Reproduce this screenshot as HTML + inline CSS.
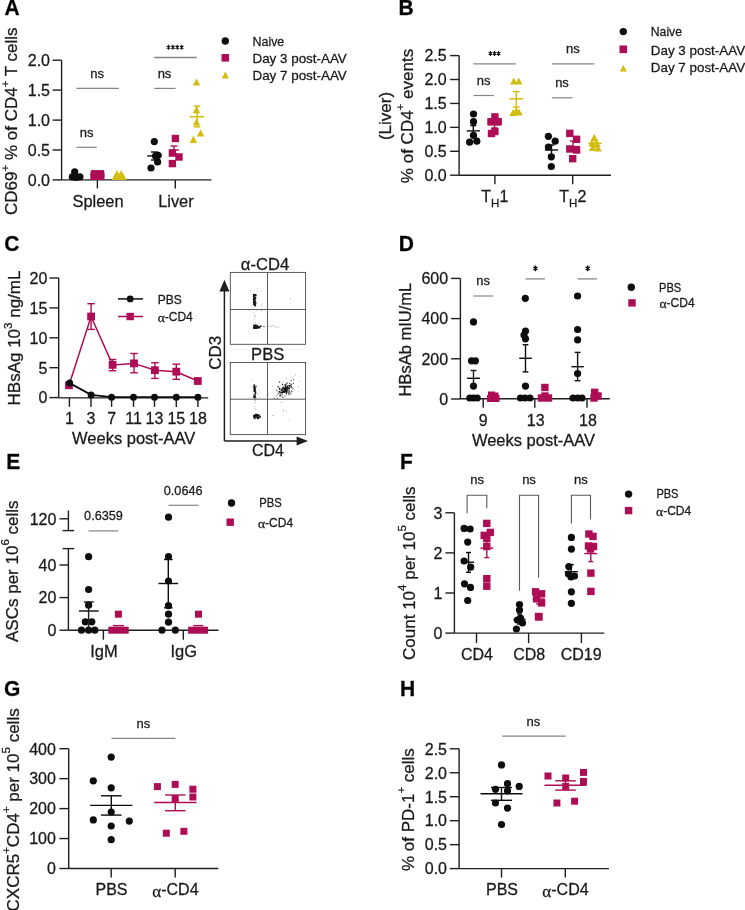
<!DOCTYPE html>
<html><head><meta charset="utf-8"><style>
html,body{margin:0;padding:0;background:#fff;}
svg{display:block;font-family:"Liberation Sans", sans-serif;will-change:transform;}
text{stroke:#1a1a1a;stroke-width:0.28px;}
</style></head><body>
<svg width="745" height="910" viewBox="0 0 745 910">
<rect width="745" height="910" fill="#fff"/>
<text transform="translate(4.5,15.3) scale(1,1.09)" font-size="21" font-weight="bold" fill="#000">A</text>
<line x1="61.6" y1="60.2" x2="61.6" y2="179.9" stroke="#1e1e1e" stroke-width="1.4"/>
<line x1="52.6" y1="60.2" x2="61.6" y2="60.2" stroke="#1e1e1e" stroke-width="1.4"/>
<text x="50" y="66.0" font-size="16" text-anchor="end" font-weight="normal" fill="#1a1a1a" >2.0</text>
<line x1="52.6" y1="90.1" x2="61.6" y2="90.1" stroke="#1e1e1e" stroke-width="1.4"/>
<text x="50" y="95.89999999999999" font-size="16" text-anchor="end" font-weight="normal" fill="#1a1a1a" >1.5</text>
<line x1="52.6" y1="120.1" x2="61.6" y2="120.1" stroke="#1e1e1e" stroke-width="1.4"/>
<text x="50" y="125.89999999999999" font-size="16" text-anchor="end" font-weight="normal" fill="#1a1a1a" >1.0</text>
<line x1="52.6" y1="150" x2="61.6" y2="150" stroke="#1e1e1e" stroke-width="1.4"/>
<text x="50" y="155.8" font-size="16" text-anchor="end" font-weight="normal" fill="#1a1a1a" >0.5</text>
<line x1="52.6" y1="179.9" x2="61.6" y2="179.9" stroke="#1e1e1e" stroke-width="1.4"/>
<text x="50" y="185.70000000000002" font-size="16" text-anchor="end" font-weight="normal" fill="#1a1a1a" >0.0</text>
<line x1="61.6" y1="179.9" x2="211.5" y2="179.9" stroke="#1e1e1e" stroke-width="1.4"/>
<line x1="97.4" y1="179.9" x2="97.4" y2="188.4" stroke="#1e1e1e" stroke-width="1.4"/>
<line x1="175.3" y1="179.9" x2="175.3" y2="188.4" stroke="#1e1e1e" stroke-width="1.4"/>
<text x="98" y="207.2" font-size="16.4" text-anchor="middle" font-weight="normal" fill="#1a1a1a" >Spleen</text>
<text x="175.9" y="207.2" font-size="16.4" text-anchor="middle" font-weight="normal" fill="#1a1a1a" >Liver</text>
<text transform="translate(17.2,121.2) rotate(-90)" font-size="17" text-anchor="middle" fill="#1a1a1a" >CD69<tspan dy="-8.3" font-size="11.5">+</tspan><tspan dy="8.3"> % of CD4</tspan><tspan dy="-8.3" font-size="11.5">+</tspan><tspan dy="8.3"> T cells</tspan></text>
<line x1="76.5" y1="88.4" x2="118.8" y2="88.4" stroke="#858585" stroke-width="1.2"/>
<text x="97.2" y="77.8" font-size="13" text-anchor="middle" font-weight="normal" fill="#1a1a1a" >ns</text>
<line x1="76.5" y1="147.3" x2="96.8" y2="147.3" stroke="#858585" stroke-width="1.2"/>
<text x="86.6" y="136.8" font-size="13" text-anchor="middle" font-weight="normal" fill="#1a1a1a" >ns</text>
<line x1="154.2" y1="88.4" x2="175.6" y2="88.4" stroke="#858585" stroke-width="1.2"/>
<text x="164.5" y="77.6" font-size="13" text-anchor="middle" font-weight="normal" fill="#1a1a1a" >ns</text>
<line x1="154.2" y1="57.5" x2="196.7" y2="57.5" stroke="#858585" stroke-width="1.3"/>
<path d="M168.50,44.80V49.80M166.70,45.92L170.30,48.67M166.70,48.67L170.30,45.92" stroke="#111" stroke-width="1.1" fill="none"/>
<circle cx="168.50" cy="47.3" r="0.9" fill="#111"/>
<path d="M172.90,44.80V49.80M171.10,45.92L174.70,48.67M171.10,48.67L174.70,45.92" stroke="#111" stroke-width="1.1" fill="none"/>
<circle cx="172.90" cy="47.3" r="0.9" fill="#111"/>
<path d="M177.30,44.80V49.80M175.50,45.92L179.10,48.67M175.50,48.67L179.10,45.92" stroke="#111" stroke-width="1.1" fill="none"/>
<circle cx="177.30" cy="47.3" r="0.9" fill="#111"/>
<path d="M181.70,44.80V49.80M179.90,45.92L183.50,48.67M179.90,48.67L183.50,45.92" stroke="#111" stroke-width="1.1" fill="none"/>
<circle cx="181.70" cy="47.3" r="0.9" fill="#111"/>
<circle cx="72.3" cy="176.9" r="3.6" fill="#0d0d0d"/>
<circle cx="76.1" cy="177.4" r="3.6" fill="#0d0d0d"/>
<circle cx="79.9" cy="176.9" r="3.6" fill="#0d0d0d"/>
<circle cx="74.7" cy="171.9" r="3.6" fill="#0d0d0d"/>
<rect x="90.30" y="172.60" width="7.4" height="7.4" fill="#AD0D55"/>
<rect x="97.10" y="172.60" width="7.4" height="7.4" fill="#AD0D55"/>
<rect x="90.80" y="170.10" width="7.4" height="7.4" fill="#AD0D55"/>
<rect x="96.80" y="170.10" width="7.4" height="7.4" fill="#AD0D55"/>
<rect x="93.80" y="171.30" width="7.4" height="7.4" fill="#AD0D55"/>
<polygon points="113.30,177.19 120.70,177.19 117.00,170.01" fill="#D3BD12"/>
<polygon points="117.50,177.19 124.90,177.19 121.20,170.01" fill="#D3BD12"/>
<polygon points="111.80,180.09 119.20,180.09 115.50,172.91" fill="#D3BD12"/>
<polygon points="119.30,180.09 126.70,180.09 123.00,172.91" fill="#D3BD12"/>
<polygon points="115.30,180.09 122.70,180.09 119.00,172.91" fill="#D3BD12"/>
<line x1="70.0" y1="176" x2="82.0" y2="176" stroke="#0d0d0d" stroke-width="1.4"/>
<circle cx="154.3" cy="141.6" r="3.6" fill="#0d0d0d"/>
<circle cx="158.1" cy="155.3" r="3.6" fill="#0d0d0d"/>
<circle cx="155.5" cy="156" r="3.6" fill="#0d0d0d"/>
<circle cx="157.6" cy="161.9" r="3.6" fill="#0d0d0d"/>
<circle cx="151" cy="168" r="3.6" fill="#0d0d0d"/>
<line x1="147.35" y1="155.9" x2="161.65" y2="155.9" stroke="#0d0d0d" stroke-width="1.4"/>
<line x1="154.5" y1="160" x2="154.5" y2="152" stroke="#0d0d0d" stroke-width="1.4"/>
<line x1="151.0" y1="160" x2="158.0" y2="160" stroke="#0d0d0d" stroke-width="1.4"/>
<line x1="151.0" y1="152" x2="158.0" y2="152" stroke="#0d0d0d" stroke-width="1.4"/>
<rect x="171.70" y="134.80" width="7.4" height="7.4" fill="#AD0D55"/>
<rect x="168.70" y="149.40" width="7.4" height="7.4" fill="#AD0D55"/>
<rect x="175.30" y="153.30" width="7.4" height="7.4" fill="#AD0D55"/>
<rect x="168.70" y="159.90" width="7.4" height="7.4" fill="#AD0D55"/>
<line x1="169.0" y1="150" x2="179.0" y2="150" stroke="#AD0D55" stroke-width="1.4"/>
<line x1="174" y1="154" x2="174" y2="146" stroke="#AD0D55" stroke-width="1.4"/>
<line x1="170.5" y1="154" x2="177.5" y2="154" stroke="#AD0D55" stroke-width="1.4"/>
<line x1="170.5" y1="146" x2="177.5" y2="146" stroke="#AD0D55" stroke-width="1.4"/>
<polygon points="192.80,85.59 200.20,85.59 196.50,78.41" fill="#D3BD12"/>
<polygon points="192.80,113.29 200.20,113.29 196.50,106.11" fill="#D3BD12"/>
<polygon points="192.80,125.49 200.20,125.49 196.50,118.31" fill="#D3BD12"/>
<polygon points="196.90,136.39 204.30,136.39 200.60,129.21" fill="#D3BD12"/>
<polygon points="189.70,142.99 197.10,142.99 193.40,135.81" fill="#D3BD12"/>
<line x1="189.9" y1="116.8" x2="204.29999999999998" y2="116.8" stroke="#D3BD12" stroke-width="1.5"/>
<line x1="197.1" y1="106.2" x2="197.1" y2="126.8" stroke="#D3BD12" stroke-width="1.5"/>
<line x1="193.79999999999998" y1="106.2" x2="200.4" y2="106.2" stroke="#D3BD12" stroke-width="1.5"/>
<line x1="193.79999999999998" y1="126.8" x2="200.4" y2="126.8" stroke="#D3BD12" stroke-width="1.5"/>
<circle cx="225.3" cy="41" r="3.7" fill="#0d0d0d"/>
<rect x="221.50" y="54.00" width="7.6" height="7.6" fill="#AD0D55"/>
<polygon points="221.80,78.39 228.80,78.39 225.30,71.61" fill="#D3BD12"/>
<text x="252.5" y="45.8" font-size="13.4" text-anchor="start" font-weight="normal" fill="#1a1a1a" textLength="31.8" lengthAdjust="spacingAndGlyphs">Naive</text>
<text x="252.5" y="62.6" font-size="13.4" text-anchor="start" font-weight="normal" fill="#1a1a1a" >Day 3 post-AAV</text>
<text x="252.5" y="79.8" font-size="13.4" text-anchor="start" font-weight="normal" fill="#1a1a1a" >Day 7 post-AAV</text>
<text transform="translate(398.6,15.3) scale(1,1.09)" font-size="21" font-weight="bold" fill="#000">B</text>
<line x1="459.1" y1="55.6" x2="459.1" y2="175.3" stroke="#1e1e1e" stroke-width="1.4"/>
<line x1="450.1" y1="55.6" x2="459.1" y2="55.6" stroke="#1e1e1e" stroke-width="1.4"/>
<text x="446.7" y="61.4" font-size="16" text-anchor="end" font-weight="normal" fill="#1a1a1a" >2.5</text>
<line x1="450.1" y1="79.52000000000001" x2="459.1" y2="79.52000000000001" stroke="#1e1e1e" stroke-width="1.4"/>
<text x="446.7" y="85.32000000000001" font-size="16" text-anchor="end" font-weight="normal" fill="#1a1a1a" >2.0</text>
<line x1="450.1" y1="103.44" x2="459.1" y2="103.44" stroke="#1e1e1e" stroke-width="1.4"/>
<text x="446.7" y="109.24" font-size="16" text-anchor="end" font-weight="normal" fill="#1a1a1a" >1.5</text>
<line x1="450.1" y1="127.36000000000001" x2="459.1" y2="127.36000000000001" stroke="#1e1e1e" stroke-width="1.4"/>
<text x="446.7" y="133.16000000000003" font-size="16" text-anchor="end" font-weight="normal" fill="#1a1a1a" >1.0</text>
<line x1="450.1" y1="151.28" x2="459.1" y2="151.28" stroke="#1e1e1e" stroke-width="1.4"/>
<text x="446.7" y="157.08" font-size="16" text-anchor="end" font-weight="normal" fill="#1a1a1a" >0.5</text>
<line x1="450.1" y1="175.20000000000002" x2="459.1" y2="175.20000000000002" stroke="#1e1e1e" stroke-width="1.4"/>
<text x="446.7" y="181.00000000000003" font-size="16" text-anchor="end" font-weight="normal" fill="#1a1a1a" >0.0</text>
<line x1="459.1" y1="175.3" x2="611" y2="175.3" stroke="#1e1e1e" stroke-width="1.4"/>
<line x1="494.9" y1="175.3" x2="494.9" y2="184.3" stroke="#1e1e1e" stroke-width="1.4"/>
<line x1="572.7" y1="175.3" x2="572.7" y2="184.3" stroke="#1e1e1e" stroke-width="1.4"/>
<text x="481.3" y="202" font-size="16" fill="#1a1a1a">T<tspan dy="5" font-size="11.5">H</tspan><tspan dy="-5">1</tspan></text>
<text x="559.3" y="202" font-size="16" fill="#1a1a1a">T<tspan dy="5" font-size="11.5">H</tspan><tspan dy="-5">2</tspan></text>
<text transform="translate(390.7,116) rotate(-90)" font-size="17" text-anchor="middle" fill="#1a1a1a" >(Liver)</text>
<text transform="translate(412.7,116) rotate(-90)" font-size="17" text-anchor="middle" fill="#1a1a1a" >% of CD4<tspan dy="-8.3" font-size="11.5">+</tspan><tspan dy="8.3"> events</tspan></text>
<line x1="473.5" y1="95.5" x2="493.9" y2="95.5" stroke="#858585" stroke-width="1.2"/>
<text x="483.7" y="84.8" font-size="13" text-anchor="middle" font-weight="normal" fill="#1a1a1a" >ns</text>
<line x1="473.5" y1="63.9" x2="515.7" y2="63.9" stroke="#858585" stroke-width="1.3"/>
<path d="M490.45,51.00V56.00M488.65,52.12L492.25,54.88M488.65,54.88L492.25,52.12" stroke="#111" stroke-width="1.1" fill="none"/>
<circle cx="490.45" cy="53.5" r="0.9" fill="#111"/>
<path d="M494.50,51.00V56.00M492.70,52.12L496.30,54.88M492.70,54.88L496.30,52.12" stroke="#111" stroke-width="1.1" fill="none"/>
<circle cx="494.50" cy="53.5" r="0.9" fill="#111"/>
<path d="M498.55,51.00V56.00M496.75,52.12L500.35,54.88M496.75,54.88L500.35,52.12" stroke="#111" stroke-width="1.1" fill="none"/>
<circle cx="498.55" cy="53.5" r="0.9" fill="#111"/>
<line x1="551.9" y1="63.9" x2="594.2" y2="63.9" stroke="#858585" stroke-width="1.2"/>
<text x="572.8" y="53.2" font-size="13" text-anchor="middle" font-weight="normal" fill="#1a1a1a" >ns</text>
<line x1="551.9" y1="97.8" x2="572.7" y2="97.8" stroke="#858585" stroke-width="1.2"/>
<text x="562" y="87.1" font-size="13" text-anchor="middle" font-weight="normal" fill="#1a1a1a" >ns</text>
<circle cx="473.5" cy="114" r="3.6" fill="#0d0d0d"/>
<circle cx="473.5" cy="121.7" r="3.6" fill="#0d0d0d"/>
<circle cx="473.5" cy="135.4" r="3.6" fill="#0d0d0d"/>
<circle cx="469.6" cy="142.2" r="3.6" fill="#0d0d0d"/>
<circle cx="476.8" cy="141.2" r="3.6" fill="#0d0d0d"/>
<line x1="466.7" y1="130.9" x2="479.90000000000003" y2="130.9" stroke="#0d0d0d" stroke-width="1.4"/>
<line x1="473.3" y1="125.6" x2="473.3" y2="136" stroke="#0d0d0d" stroke-width="1.4"/>
<line x1="470.3" y1="125.6" x2="476.3" y2="125.6" stroke="#0d0d0d" stroke-width="1.4"/>
<line x1="470.3" y1="136" x2="476.3" y2="136" stroke="#0d0d0d" stroke-width="1.4"/>
<rect x="491.20" y="113.20" width="7.4" height="7.4" fill="#AD0D55"/>
<rect x="487.30" y="118.00" width="7.4" height="7.4" fill="#AD0D55"/>
<rect x="494.50" y="118.00" width="7.4" height="7.4" fill="#AD0D55"/>
<rect x="491.20" y="127.80" width="7.4" height="7.4" fill="#AD0D55"/>
<rect x="487.80" y="129.80" width="7.4" height="7.4" fill="#AD0D55"/>
<line x1="488.5" y1="124.7" x2="500.5" y2="124.7" stroke="#AD0D55" stroke-width="1.4"/>
<line x1="494.5" y1="121" x2="494.5" y2="128" stroke="#AD0D55" stroke-width="1.4"/>
<line x1="491.5" y1="121" x2="497.5" y2="121" stroke="#AD0D55" stroke-width="1.4"/>
<line x1="491.5" y1="128" x2="497.5" y2="128" stroke="#AD0D55" stroke-width="1.4"/>
<polygon points="510.10,84.59 517.50,84.59 513.80,77.41" fill="#D3BD12"/>
<polygon points="515.10,84.59 522.50,84.59 518.80,77.41" fill="#D3BD12"/>
<polygon points="512.60,114.09 520.00,114.09 516.30,106.91" fill="#D3BD12"/>
<polygon points="509.30,116.09 516.70,116.09 513.00,108.91" fill="#D3BD12"/>
<polygon points="515.30,115.59 522.70,115.59 519.00,108.41" fill="#D3BD12"/>
<line x1="509.29999999999995" y1="98.8" x2="523.3" y2="98.8" stroke="#D3BD12" stroke-width="1.5"/>
<line x1="516.3" y1="91.6" x2="516.3" y2="107.1" stroke="#D3BD12" stroke-width="1.5"/>
<line x1="513.0" y1="91.6" x2="519.5999999999999" y2="91.6" stroke="#D3BD12" stroke-width="1.5"/>
<line x1="513.0" y1="107.1" x2="519.5999999999999" y2="107.1" stroke="#D3BD12" stroke-width="1.5"/>
<circle cx="548.4" cy="136.3" r="3.6" fill="#0d0d0d"/>
<circle cx="555.2" cy="141.2" r="3.6" fill="#0d0d0d"/>
<circle cx="548.4" cy="147" r="3.6" fill="#0d0d0d"/>
<circle cx="551.3" cy="156.8" r="3.6" fill="#0d0d0d"/>
<circle cx="551.3" cy="166.5" r="3.6" fill="#0d0d0d"/>
<line x1="544.85" y1="150" x2="558.15" y2="150" stroke="#0d0d0d" stroke-width="1.4"/>
<line x1="551.5" y1="145" x2="551.5" y2="155" stroke="#0d0d0d" stroke-width="1.4"/>
<line x1="548.5" y1="145" x2="554.5" y2="145" stroke="#0d0d0d" stroke-width="1.4"/>
<line x1="548.5" y1="155" x2="554.5" y2="155" stroke="#0d0d0d" stroke-width="1.4"/>
<rect x="566.10" y="129.70" width="7.4" height="7.4" fill="#AD0D55"/>
<rect x="572.90" y="135.60" width="7.4" height="7.4" fill="#AD0D55"/>
<rect x="566.10" y="145.30" width="7.4" height="7.4" fill="#AD0D55"/>
<rect x="572.90" y="146.30" width="7.4" height="7.4" fill="#AD0D55"/>
<rect x="569.00" y="155.00" width="7.4" height="7.4" fill="#AD0D55"/>
<line x1="567.0" y1="146.5" x2="579.0" y2="146.5" stroke="#AD0D55" stroke-width="1.4"/>
<line x1="573" y1="141" x2="573" y2="151" stroke="#AD0D55" stroke-width="1.4"/>
<line x1="570.0" y1="141" x2="576.0" y2="141" stroke="#AD0D55" stroke-width="1.4"/>
<line x1="570.0" y1="151" x2="576.0" y2="151" stroke="#AD0D55" stroke-width="1.4"/>
<polygon points="590.50,140.89 597.90,140.89 594.20,133.71" fill="#D3BD12"/>
<polygon points="588.30,146.59 595.70,146.59 592.00,139.41" fill="#D3BD12"/>
<polygon points="593.30,147.09 600.70,147.09 597.00,139.91" fill="#D3BD12"/>
<polygon points="588.80,151.09 596.20,151.09 592.50,143.91" fill="#D3BD12"/>
<polygon points="594.30,151.39 601.70,151.39 598.00,144.21" fill="#D3BD12"/>
<line x1="588.25" y1="143.3" x2="601.75" y2="143.3" stroke="#D3BD12" stroke-width="1.5"/>
<line x1="595" y1="140" x2="595" y2="147" stroke="#D3BD12" stroke-width="1.5"/>
<line x1="592.0" y1="140" x2="598.0" y2="140" stroke="#D3BD12" stroke-width="1.5"/>
<line x1="592.0" y1="147" x2="598.0" y2="147" stroke="#D3BD12" stroke-width="1.5"/>
<circle cx="623.3" cy="31.6" r="3.7" fill="#0d0d0d"/>
<rect x="619.50" y="45.50" width="7.6" height="7.6" fill="#AD0D55"/>
<polygon points="619.80,71.49 626.80,71.49 623.30,64.70" fill="#D3BD12"/>
<text x="650.8" y="36.4" font-size="13.4" text-anchor="start" font-weight="normal" fill="#1a1a1a" textLength="31.2" lengthAdjust="spacingAndGlyphs">Naive</text>
<text x="650.8" y="54.5" font-size="13.4" text-anchor="start" font-weight="normal" fill="#1a1a1a" >Day 3 post-AAV</text>
<text x="650.8" y="72.2" font-size="13.4" text-anchor="start" font-weight="normal" fill="#1a1a1a" >Day 7 post-AAV</text>
<text transform="translate(4.3,251.4) scale(1,1.09)" font-size="21" font-weight="bold" fill="#000">C</text>
<line x1="58.7" y1="278" x2="58.7" y2="397.6" stroke="#1e1e1e" stroke-width="1.4"/>
<line x1="49.400000000000006" y1="278.0" x2="58.7" y2="278.0" stroke="#1e1e1e" stroke-width="1.4"/>
<text x="47.4" y="283.8" font-size="16" text-anchor="end" font-weight="normal" fill="#1a1a1a" >20</text>
<line x1="49.400000000000006" y1="307.9" x2="58.7" y2="307.9" stroke="#1e1e1e" stroke-width="1.4"/>
<text x="47.4" y="313.7" font-size="16" text-anchor="end" font-weight="normal" fill="#1a1a1a" >15</text>
<line x1="49.400000000000006" y1="337.8" x2="58.7" y2="337.8" stroke="#1e1e1e" stroke-width="1.4"/>
<text x="47.4" y="343.6" font-size="16" text-anchor="end" font-weight="normal" fill="#1a1a1a" >10</text>
<line x1="49.400000000000006" y1="367.7" x2="58.7" y2="367.7" stroke="#1e1e1e" stroke-width="1.4"/>
<text x="47.4" y="373.5" font-size="16" text-anchor="end" font-weight="normal" fill="#1a1a1a" >5</text>
<line x1="49.400000000000006" y1="397.6" x2="58.7" y2="397.6" stroke="#1e1e1e" stroke-width="1.4"/>
<text x="47.4" y="403.40000000000003" font-size="16" text-anchor="end" font-weight="normal" fill="#1a1a1a" >0</text>
<line x1="58.7" y1="397.9" x2="208.2" y2="397.9" stroke="#1e1e1e" stroke-width="1.4"/>
<line x1="69.4" y1="397.9" x2="69.4" y2="406.9" stroke="#1e1e1e" stroke-width="1.4"/>
<line x1="91" y1="397.9" x2="91" y2="406.9" stroke="#1e1e1e" stroke-width="1.4"/>
<line x1="111.6" y1="397.9" x2="111.6" y2="406.9" stroke="#1e1e1e" stroke-width="1.4"/>
<line x1="133.5" y1="397.9" x2="133.5" y2="406.9" stroke="#1e1e1e" stroke-width="1.4"/>
<line x1="154.5" y1="397.9" x2="154.5" y2="406.9" stroke="#1e1e1e" stroke-width="1.4"/>
<line x1="176.3" y1="397.9" x2="176.3" y2="406.9" stroke="#1e1e1e" stroke-width="1.4"/>
<line x1="197.9" y1="397.9" x2="197.9" y2="406.9" stroke="#1e1e1e" stroke-width="1.4"/>
<text x="69.4" y="424.3" font-size="16" text-anchor="middle" font-weight="normal" fill="#1a1a1a" >1</text>
<text x="91" y="424.3" font-size="16" text-anchor="middle" font-weight="normal" fill="#1a1a1a" >3</text>
<text x="111.6" y="424.3" font-size="16" text-anchor="middle" font-weight="normal" fill="#1a1a1a" >7</text>
<text x="133.5" y="424.3" font-size="16" text-anchor="middle" font-weight="normal" fill="#1a1a1a" >11</text>
<text x="154.5" y="424.3" font-size="16" text-anchor="middle" font-weight="normal" fill="#1a1a1a" >13</text>
<text x="176.3" y="424.3" font-size="16" text-anchor="middle" font-weight="normal" fill="#1a1a1a" >15</text>
<text x="197.9" y="424.3" font-size="16" text-anchor="middle" font-weight="normal" fill="#1a1a1a" >18</text>
<text x="133.6" y="444.2" font-size="16.5" text-anchor="middle" font-weight="normal" fill="#1a1a1a" >Weeks post-AAV</text>
<text transform="translate(19.8,338) rotate(-90)" font-size="17" text-anchor="middle" fill="#1a1a1a" >HBsAg 10<tspan dy="-8.3" font-size="11.5">3</tspan><tspan dy="8.3"> ng/mL</tspan></text>
<polyline points="69,385.3 91.1,316.5 112.6,364.9 134,363.4 154.9,370.2 176.3,371.7 197.8,381" fill="none" stroke="#AD0D55" stroke-width="1.5"/>
<line x1="91.1" y1="316.5" x2="91.1" y2="316.5" stroke="#AD0D55" stroke-width="1.4"/>
<line x1="91.1" y1="303.7" x2="91.1" y2="329.4" stroke="#AD0D55" stroke-width="1.4"/>
<line x1="87.35" y1="303.7" x2="94.85" y2="303.7" stroke="#AD0D55" stroke-width="1.4"/>
<line x1="87.35" y1="329.4" x2="94.85" y2="329.4" stroke="#AD0D55" stroke-width="1.4"/>
<line x1="112.6" y1="364.9" x2="112.6" y2="364.9" stroke="#AD0D55" stroke-width="1.4"/>
<line x1="112.6" y1="359.5" x2="112.6" y2="370.7" stroke="#AD0D55" stroke-width="1.4"/>
<line x1="108.85" y1="359.5" x2="116.35" y2="359.5" stroke="#AD0D55" stroke-width="1.4"/>
<line x1="108.85" y1="370.7" x2="116.35" y2="370.7" stroke="#AD0D55" stroke-width="1.4"/>
<line x1="134.0" y1="363.4" x2="134.0" y2="363.4" stroke="#AD0D55" stroke-width="1.4"/>
<line x1="134" y1="353.5" x2="134" y2="372.8" stroke="#AD0D55" stroke-width="1.4"/>
<line x1="130.25" y1="353.5" x2="137.75" y2="353.5" stroke="#AD0D55" stroke-width="1.4"/>
<line x1="130.25" y1="372.8" x2="137.75" y2="372.8" stroke="#AD0D55" stroke-width="1.4"/>
<line x1="154.9" y1="370.2" x2="154.9" y2="370.2" stroke="#AD0D55" stroke-width="1.4"/>
<line x1="154.9" y1="362.7" x2="154.9" y2="378.4" stroke="#AD0D55" stroke-width="1.4"/>
<line x1="151.15" y1="362.7" x2="158.65" y2="362.7" stroke="#AD0D55" stroke-width="1.4"/>
<line x1="151.15" y1="378.4" x2="158.65" y2="378.4" stroke="#AD0D55" stroke-width="1.4"/>
<line x1="176.3" y1="371.7" x2="176.3" y2="371.7" stroke="#AD0D55" stroke-width="1.4"/>
<line x1="176.3" y1="364.2" x2="176.3" y2="379.3" stroke="#AD0D55" stroke-width="1.4"/>
<line x1="172.55" y1="364.2" x2="180.05" y2="364.2" stroke="#AD0D55" stroke-width="1.4"/>
<line x1="172.55" y1="379.3" x2="180.05" y2="379.3" stroke="#AD0D55" stroke-width="1.4"/>
<rect x="65.10" y="381.40" width="7.8" height="7.8" fill="#AD0D55"/>
<rect x="87.20" y="312.60" width="7.8" height="7.8" fill="#AD0D55"/>
<rect x="108.70" y="361.00" width="7.8" height="7.8" fill="#AD0D55"/>
<rect x="130.10" y="359.50" width="7.8" height="7.8" fill="#AD0D55"/>
<rect x="151.00" y="366.30" width="7.8" height="7.8" fill="#AD0D55"/>
<rect x="172.40" y="367.80" width="7.8" height="7.8" fill="#AD0D55"/>
<rect x="193.90" y="377.10" width="7.8" height="7.8" fill="#AD0D55"/>
<polyline points="69.6,383.1 91.1,394.9 111.6,397.2 133.5,397.2 154.5,397.2 176.3,397.2 197.9,397.2" fill="none" stroke="#0d0d0d" stroke-width="1.8"/>
<circle cx="69.6" cy="383.1" r="3.5" fill="#0d0d0d"/>
<circle cx="91.1" cy="394.9" r="3.5" fill="#0d0d0d"/>
<circle cx="111.6" cy="397.2" r="3.5" fill="#0d0d0d"/>
<circle cx="133.5" cy="397.2" r="3.5" fill="#0d0d0d"/>
<circle cx="154.5" cy="397.2" r="3.5" fill="#0d0d0d"/>
<circle cx="176.3" cy="397.2" r="3.5" fill="#0d0d0d"/>
<circle cx="197.9" cy="397.2" r="3.5" fill="#0d0d0d"/>
<line x1="118" y1="298.9" x2="143" y2="298.9" stroke="#0d0d0d" stroke-width="1.5"/>
<circle cx="130.2" cy="298.9" r="3.4" fill="#0d0d0d"/>
<line x1="118" y1="316.5" x2="143" y2="316.5" stroke="#AD0D55" stroke-width="1.5"/>
<rect x="126.50" y="312.80" width="7.4" height="7.4" fill="#AD0D55"/>
<text x="157.7" y="303.7" font-size="12" text-anchor="start" font-weight="normal" fill="#1a1a1a" >PBS</text>
<text x="157.7" y="321" font-size="12" fill="#1a1a1a"><tspan font-family='"Liberation Serif", serif' font-size="13.5" dy="1.3">α</tspan><tspan dy="-1.3">-CD4</tspan></text>
<rect x="230.3" y="272.4" width="75.3" height="71.9" fill="none" stroke="#4a4a4a" stroke-width="0.9"/>
<line x1="267.5" y1="272.4" x2="267.5" y2="344.3" stroke="#4a4a4a" stroke-width="0.9"/>
<line x1="230.3" y1="309.5" x2="305.6" y2="309.5" stroke="#4a4a4a" stroke-width="0.9"/>
<rect x="230.3" y="362.5" width="75.3" height="72.1" fill="none" stroke="#4a4a4a" stroke-width="0.9"/>
<line x1="267.5" y1="362.5" x2="267.5" y2="434.6" stroke="#4a4a4a" stroke-width="0.9"/>
<line x1="230.3" y1="399.2" x2="305.6" y2="399.2" stroke="#4a4a4a" stroke-width="0.9"/>
<text x="265" y="269.6" font-size="16.6" text-anchor="middle" font-weight="normal" fill="#1a1a1a" >α-CD4</text>
<text x="267.7" y="359.9" font-size="16.6" text-anchor="middle" font-weight="normal" fill="#1a1a1a" >PBS</text>
<line x1="224.4" y1="441" x2="224.4" y2="290" stroke="#1e1e1e" stroke-width="1.5"/>
<polygon points="219.4,291.5 229.4,291.5 224.4,279.8" fill="#1e1e1e"/>
<line x1="224.4" y1="441" x2="297" y2="441" stroke="#1e1e1e" stroke-width="1.5"/>
<polygon points="296.6,436.4 296.6,445.6 308,441" fill="#1e1e1e"/>
<text transform="translate(220.6,352.8) rotate(-90)" font-size="17" text-anchor="middle" fill="#1a1a1a" >CD3</text>
<text x="268" y="456.2" font-size="16" text-anchor="middle" font-weight="normal" fill="#1a1a1a" >CD4</text>
<g fill="#111"><circle cx="254.2" cy="295.7" r="0.6" opacity="1"/><circle cx="255.1" cy="294.7" r="0.6" opacity="1"/><circle cx="254.8" cy="298.3" r="0.6" opacity="1"/><circle cx="253.6" cy="300.1" r="0.6" opacity="1"/><circle cx="253.5" cy="299.2" r="0.6" opacity="1"/><circle cx="253.6" cy="294.9" r="0.6" opacity="1"/><circle cx="254.5" cy="304.1" r="0.6" opacity="1"/><circle cx="253.7" cy="296.6" r="0.6" opacity="1"/><circle cx="255.0" cy="305.6" r="0.6" opacity="1"/><circle cx="254.9" cy="298.7" r="0.6" opacity="1"/><circle cx="255.9" cy="294.4" r="0.6" opacity="1"/><circle cx="255.6" cy="297.4" r="0.6" opacity="1"/><circle cx="253.8" cy="295.3" r="0.6" opacity="1"/><circle cx="254.2" cy="303.9" r="0.6" opacity="1"/><circle cx="253.9" cy="301.0" r="0.6" opacity="1"/><circle cx="255.1" cy="298.4" r="0.6" opacity="1"/><circle cx="254.8" cy="294.6" r="0.6" opacity="1"/><circle cx="253.6" cy="296.4" r="0.6" opacity="1"/><circle cx="255.2" cy="299.1" r="0.6" opacity="1"/><circle cx="254.2" cy="301.1" r="0.6" opacity="1"/><circle cx="254.6" cy="297.5" r="0.6" opacity="1"/><circle cx="255.5" cy="302.5" r="0.6" opacity="1"/><circle cx="254.0" cy="300.9" r="0.6" opacity="1"/><circle cx="254.8" cy="304.7" r="0.6" opacity="1"/><circle cx="255.3" cy="297.4" r="0.6" opacity="1"/><circle cx="255.9" cy="295.3" r="0.6" opacity="1"/><circle cx="254.5" cy="303.2" r="0.6" opacity="1"/><circle cx="253.8" cy="299.9" r="0.6" opacity="1"/><circle cx="253.5" cy="302.1" r="0.6" opacity="1"/><circle cx="255.4" cy="300.9" r="0.6" opacity="1"/><circle cx="255.7" cy="297.7" r="0.6" opacity="1"/><circle cx="255.2" cy="301.2" r="0.6" opacity="1"/><circle cx="254.9" cy="299.5" r="0.6" opacity="1"/><circle cx="255.6" cy="305.5" r="0.6" opacity="1"/><circle cx="254.6" cy="302.0" r="0.6" opacity="1"/><circle cx="253.6" cy="302.5" r="0.6" opacity="1"/><circle cx="255.1" cy="306.1" r="0.6" opacity="1"/><circle cx="255.5" cy="297.3" r="0.6" opacity="1"/><circle cx="254.4" cy="302.1" r="0.6" opacity="1"/><circle cx="253.5" cy="299.5" r="0.6" opacity="1"/><circle cx="253.8" cy="295.3" r="0.6" opacity="1"/><circle cx="253.6" cy="303.3" r="0.6" opacity="1"/><circle cx="253.7" cy="296.9" r="0.6" opacity="1"/><circle cx="254.4" cy="304.6" r="0.6" opacity="1"/><circle cx="253.6" cy="299.4" r="0.6" opacity="1"/><circle cx="254.8" cy="304.8" r="0.6" opacity="1"/><circle cx="255.5" cy="304.5" r="0.6" opacity="1"/><circle cx="254.1" cy="298.9" r="0.6" opacity="1"/><circle cx="254.3" cy="304.8" r="0.6" opacity="1"/><circle cx="255.9" cy="295.7" r="0.6" opacity="1"/><circle cx="253.9" cy="296.7" r="0.6" opacity="1"/><circle cx="254.0" cy="299.8" r="0.6" opacity="1"/><circle cx="254.9" cy="297.1" r="0.6" opacity="1"/><circle cx="253.4" cy="299.0" r="0.6" opacity="1"/><circle cx="254.4" cy="300.8" r="0.6" opacity="1"/><circle cx="255.9" cy="302.4" r="0.6" opacity="1"/><circle cx="254.7" cy="301.5" r="0.6" opacity="1"/><circle cx="255.2" cy="294.5" r="0.6" opacity="1"/><circle cx="255.7" cy="303.5" r="0.6" opacity="1"/><circle cx="255.7" cy="303.7" r="0.6" opacity="1"/><circle cx="254.4" cy="298.7" r="0.6" opacity="1"/><circle cx="253.7" cy="301.7" r="0.6" opacity="1"/><circle cx="253.6" cy="294.6" r="0.6" opacity="1"/><circle cx="253.9" cy="295.8" r="0.6" opacity="1"/><circle cx="254.3" cy="294.5" r="0.6" opacity="1"/><circle cx="253.4" cy="295.7" r="0.6" opacity="1"/><circle cx="253.7" cy="298.3" r="0.6" opacity="1"/><circle cx="253.5" cy="304.6" r="0.6" opacity="1"/><circle cx="255.0" cy="295.6" r="0.6" opacity="1"/><circle cx="254.1" cy="298.1" r="0.6" opacity="1"/><circle cx="254.5" cy="290.8" r="0.4" opacity="0.5"/><circle cx="261.7" cy="310.8" r="0.4" opacity="0.5"/><circle cx="256.0" cy="299.1" r="0.4" opacity="0.5"/><circle cx="250.3" cy="290.4" r="0.4" opacity="0.5"/><circle cx="254.1" cy="294.1" r="0.4" opacity="0.5"/><circle cx="261.4" cy="291.7" r="0.4" opacity="0.5"/><circle cx="249.3" cy="309.9" r="0.4" opacity="0.5"/><circle cx="256.9" cy="291.4" r="0.4" opacity="0.5"/><circle cx="257.1" cy="288.6" r="0.4" opacity="0.5"/><circle cx="256.9" cy="310.5" r="0.4" opacity="0.5"/><circle cx="261.9" cy="304.0" r="0.4" opacity="0.5"/><circle cx="252.9" cy="296.4" r="0.4" opacity="0.5"/><circle cx="251.5" cy="305.8" r="0.4" opacity="0.5"/><circle cx="257.0" cy="305.9" r="0.4" opacity="0.5"/><circle cx="253.9" cy="293.1" r="0.4" opacity="0.5"/><circle cx="261.2" cy="310.7" r="0.4" opacity="0.5"/><circle cx="261.8" cy="306.5" r="0.4" opacity="0.5"/><circle cx="261.3" cy="305.0" r="0.4" opacity="0.5"/><circle cx="254.3" cy="316.2" r="0.45" opacity="0.6"/><circle cx="254.5" cy="309.4" r="0.45" opacity="0.6"/><circle cx="254.0" cy="312.9" r="0.45" opacity="0.6"/><circle cx="254.4" cy="318.7" r="0.45" opacity="0.6"/><circle cx="255.4" cy="315.3" r="0.45" opacity="0.6"/><circle cx="255.4" cy="322.8" r="0.45" opacity="0.6"/><circle cx="257.8" cy="326.2" r="0.65" opacity="1"/><circle cx="254.4" cy="325.7" r="0.65" opacity="1"/><circle cx="254.3" cy="325.6" r="0.65" opacity="1"/><circle cx="256.3" cy="328.2" r="0.65" opacity="1"/><circle cx="257.3" cy="326.6" r="0.65" opacity="1"/><circle cx="256.4" cy="327.8" r="0.65" opacity="1"/><circle cx="253.8" cy="327.3" r="0.65" opacity="1"/><circle cx="257.6" cy="327.8" r="0.65" opacity="1"/><circle cx="256.9" cy="326.6" r="0.65" opacity="1"/><circle cx="254.2" cy="327.8" r="0.65" opacity="1"/><circle cx="254.9" cy="327.8" r="0.65" opacity="1"/><circle cx="257.9" cy="326.3" r="0.65" opacity="1"/><circle cx="255.2" cy="328.4" r="0.65" opacity="1"/><circle cx="256.7" cy="325.4" r="0.65" opacity="1"/><circle cx="254.0" cy="325.4" r="0.65" opacity="1"/><circle cx="257.6" cy="327.9" r="0.65" opacity="1"/><circle cx="254.1" cy="327.9" r="0.65" opacity="1"/><circle cx="257.9" cy="327.3" r="0.65" opacity="1"/><circle cx="255.0" cy="326.9" r="0.65" opacity="1"/><circle cx="254.0" cy="324.9" r="0.65" opacity="1"/><circle cx="257.9" cy="327.3" r="0.65" opacity="1"/><circle cx="255.8" cy="328.3" r="0.65" opacity="1"/><circle cx="255.4" cy="328.1" r="0.65" opacity="1"/><circle cx="257.2" cy="325.6" r="0.65" opacity="1"/><circle cx="254.6" cy="325.9" r="0.65" opacity="1"/><circle cx="254.5" cy="327.0" r="0.65" opacity="1"/><circle cx="254.6" cy="326.4" r="0.65" opacity="1"/><circle cx="254.0" cy="328.3" r="0.65" opacity="1"/><circle cx="255.0" cy="326.5" r="0.65" opacity="1"/><circle cx="256.1" cy="328.2" r="0.65" opacity="1"/><circle cx="255.3" cy="328.3" r="0.65" opacity="1"/><circle cx="255.7" cy="326.8" r="0.65" opacity="1"/><circle cx="255.8" cy="324.9" r="0.65" opacity="1"/><circle cx="255.4" cy="325.5" r="0.65" opacity="1"/><circle cx="253.4" cy="327.8" r="0.65" opacity="1"/><circle cx="254.2" cy="326.6" r="0.65" opacity="1"/><circle cx="256.7" cy="326.9" r="0.65" opacity="1"/><circle cx="254.9" cy="326.8" r="0.65" opacity="1"/><circle cx="256.0" cy="327.8" r="0.65" opacity="1"/><circle cx="253.9" cy="326.9" r="0.65" opacity="1"/><circle cx="258.0" cy="326.2" r="0.55" opacity="1"/><circle cx="260.1" cy="326.8" r="0.55" opacity="1"/><circle cx="259.2" cy="327.4" r="0.55" opacity="1"/><circle cx="260.6" cy="326.6" r="0.55" opacity="1"/><circle cx="259.5" cy="326.8" r="0.55" opacity="1"/><circle cx="259.0" cy="327.2" r="0.55" opacity="1"/><circle cx="258.8" cy="326.8" r="0.55" opacity="1"/><circle cx="258.9" cy="327.9" r="0.55" opacity="1"/><circle cx="259.8" cy="327.7" r="0.55" opacity="1"/><circle cx="260.8" cy="326.1" r="0.55" opacity="1"/><circle cx="259.2" cy="327.9" r="0.55" opacity="1"/><circle cx="260.4" cy="325.8" r="0.55" opacity="1"/><circle cx="257.5" cy="326.6" r="0.55" opacity="1"/><circle cx="257.3" cy="326.1" r="0.55" opacity="1"/><circle cx="262.3" cy="326.7" r="0.45" opacity="0.7"/><circle cx="275.1" cy="327.0" r="0.45" opacity="0.7"/><circle cx="263.8" cy="326.7" r="0.45" opacity="0.7"/><circle cx="272.9" cy="325.8" r="0.45" opacity="0.7"/><circle cx="276.9" cy="327.1" r="0.45" opacity="0.7"/><circle cx="265.0" cy="327.1" r="0.45" opacity="0.7"/><circle cx="268.2" cy="326.4" r="0.45" opacity="0.7"/><circle cx="278.8" cy="326.9" r="0.45" opacity="0.7"/><circle cx="263.9" cy="326.3" r="0.45" opacity="0.7"/><circle cx="270.3" cy="326.1" r="0.45" opacity="0.7"/><circle cx="264.5" cy="326.1" r="0.45" opacity="0.7"/><circle cx="274.0" cy="325.6" r="0.45" opacity="0.7"/><circle cx="271.0" cy="326.3" r="0.45" opacity="0.7"/><circle cx="261.3" cy="326.1" r="0.45" opacity="0.7"/><circle cx="261.7" cy="326.2" r="0.4" opacity="0.4"/><circle cx="249.4" cy="333.8" r="0.4" opacity="0.4"/><circle cx="265.3" cy="333.5" r="0.4" opacity="0.4"/><circle cx="250.3" cy="322.2" r="0.4" opacity="0.4"/><circle cx="248.9" cy="330.5" r="0.4" opacity="0.4"/><circle cx="253.9" cy="320.1" r="0.4" opacity="0.4"/><circle cx="257.3" cy="332.6" r="0.4" opacity="0.4"/><circle cx="266.0" cy="322.1" r="0.4" opacity="0.4"/><circle cx="290.5" cy="298.8" r="0.6" opacity="0.4"/><circle cx="254.2" cy="397.1" r="0.6" opacity="1"/><circle cx="255.1" cy="394.2" r="0.6" opacity="1"/><circle cx="254.1" cy="385.6" r="0.6" opacity="1"/><circle cx="255.3" cy="390.5" r="0.6" opacity="1"/><circle cx="254.1" cy="397.4" r="0.6" opacity="1"/><circle cx="255.2" cy="395.5" r="0.6" opacity="1"/><circle cx="254.1" cy="396.3" r="0.6" opacity="1"/><circle cx="254.0" cy="396.4" r="0.6" opacity="1"/><circle cx="254.9" cy="389.3" r="0.6" opacity="1"/><circle cx="255.1" cy="397.2" r="0.6" opacity="1"/><circle cx="254.5" cy="386.5" r="0.6" opacity="1"/><circle cx="255.0" cy="388.0" r="0.6" opacity="1"/><circle cx="254.1" cy="387.0" r="0.6" opacity="1"/><circle cx="254.0" cy="387.5" r="0.6" opacity="1"/><circle cx="254.6" cy="388.9" r="0.6" opacity="1"/><circle cx="255.5" cy="388.7" r="0.6" opacity="1"/><circle cx="255.0" cy="387.2" r="0.6" opacity="1"/><circle cx="254.6" cy="385.0" r="0.6" opacity="1"/><circle cx="254.4" cy="385.0" r="0.6" opacity="1"/><circle cx="255.4" cy="392.2" r="0.6" opacity="1"/><circle cx="254.3" cy="391.2" r="0.6" opacity="1"/><circle cx="255.9" cy="386.2" r="0.6" opacity="1"/><circle cx="255.6" cy="390.6" r="0.6" opacity="1"/><circle cx="254.9" cy="396.0" r="0.6" opacity="1"/><circle cx="254.7" cy="391.6" r="0.6" opacity="1"/><circle cx="255.3" cy="398.0" r="0.6" opacity="1"/><circle cx="254.6" cy="396.0" r="0.6" opacity="1"/><circle cx="255.4" cy="393.3" r="0.6" opacity="1"/><circle cx="254.7" cy="389.5" r="0.6" opacity="1"/><circle cx="254.0" cy="386.5" r="0.6" opacity="1"/><circle cx="254.0" cy="394.7" r="0.6" opacity="1"/><circle cx="254.4" cy="387.0" r="0.6" opacity="1"/><circle cx="254.1" cy="396.1" r="0.6" opacity="1"/><circle cx="255.7" cy="393.8" r="0.6" opacity="1"/><circle cx="254.5" cy="388.0" r="0.6" opacity="1"/><circle cx="254.5" cy="391.0" r="0.6" opacity="1"/><circle cx="254.2" cy="390.8" r="0.6" opacity="1"/><circle cx="254.5" cy="397.7" r="0.6" opacity="1"/><circle cx="255.9" cy="392.1" r="0.6" opacity="1"/><circle cx="254.4" cy="397.7" r="0.6" opacity="1"/><circle cx="254.6" cy="389.6" r="0.6" opacity="1"/><circle cx="253.9" cy="389.9" r="0.6" opacity="1"/><circle cx="254.9" cy="391.5" r="0.6" opacity="1"/><circle cx="254.3" cy="391.6" r="0.6" opacity="1"/><circle cx="253.9" cy="388.3" r="0.6" opacity="1"/><circle cx="254.1" cy="390.2" r="0.6" opacity="1"/><circle cx="254.0" cy="385.1" r="0.6" opacity="1"/><circle cx="254.5" cy="387.9" r="0.6" opacity="1"/><circle cx="255.1" cy="391.9" r="0.6" opacity="1"/><circle cx="255.5" cy="393.6" r="0.6" opacity="1"/><circle cx="255.4" cy="396.6" r="0.6" opacity="1"/><circle cx="254.7" cy="389.2" r="0.6" opacity="1"/><circle cx="256.0" cy="386.8" r="0.6" opacity="1"/><circle cx="255.4" cy="393.4" r="0.6" opacity="1"/><circle cx="254.0" cy="396.0" r="0.6" opacity="1"/><circle cx="260.7" cy="393.2" r="0.4" opacity="0.5"/><circle cx="258.8" cy="397.1" r="0.4" opacity="0.5"/><circle cx="251.7" cy="391.0" r="0.4" opacity="0.5"/><circle cx="256.1" cy="397.5" r="0.4" opacity="0.5"/><circle cx="259.7" cy="397.4" r="0.4" opacity="0.5"/><circle cx="257.0" cy="398.7" r="0.4" opacity="0.5"/><circle cx="258.2" cy="394.6" r="0.4" opacity="0.5"/><circle cx="252.8" cy="380.7" r="0.4" opacity="0.5"/><circle cx="251.6" cy="387.6" r="0.4" opacity="0.5"/><circle cx="251.3" cy="397.6" r="0.4" opacity="0.5"/><circle cx="256.7" cy="393.2" r="0.4" opacity="0.5"/><circle cx="257.5" cy="394.3" r="0.4" opacity="0.5"/><circle cx="255.0" cy="400.0" r="0.45" opacity="0.6"/><circle cx="255.3" cy="409.0" r="0.45" opacity="0.6"/><circle cx="255.0" cy="406.4" r="0.45" opacity="0.6"/><circle cx="255.2" cy="400.8" r="0.45" opacity="0.6"/><circle cx="255.2" cy="403.0" r="0.45" opacity="0.6"/><circle cx="254.1" cy="415.4" r="0.65" opacity="1"/><circle cx="257.2" cy="415.2" r="0.65" opacity="1"/><circle cx="257.3" cy="418.5" r="0.65" opacity="1"/><circle cx="256.1" cy="415.9" r="0.65" opacity="1"/><circle cx="256.1" cy="417.2" r="0.65" opacity="1"/><circle cx="257.4" cy="417.0" r="0.65" opacity="1"/><circle cx="256.8" cy="414.6" r="0.65" opacity="1"/><circle cx="254.5" cy="415.4" r="0.65" opacity="1"/><circle cx="257.3" cy="415.6" r="0.65" opacity="1"/><circle cx="256.5" cy="414.4" r="0.65" opacity="1"/><circle cx="254.1" cy="415.5" r="0.65" opacity="1"/><circle cx="257.0" cy="417.3" r="0.65" opacity="1"/><circle cx="257.0" cy="415.6" r="0.65" opacity="1"/><circle cx="256.2" cy="416.3" r="0.65" opacity="1"/><circle cx="256.0" cy="414.8" r="0.65" opacity="1"/><circle cx="258.0" cy="415.2" r="0.65" opacity="1"/><circle cx="258.4" cy="418.3" r="0.65" opacity="1"/><circle cx="253.9" cy="416.3" r="0.65" opacity="1"/><circle cx="257.7" cy="418.5" r="0.65" opacity="1"/><circle cx="255.9" cy="415.5" r="0.65" opacity="1"/><circle cx="254.8" cy="418.4" r="0.65" opacity="1"/><circle cx="254.8" cy="416.8" r="0.65" opacity="1"/><circle cx="254.5" cy="416.6" r="0.65" opacity="1"/><circle cx="258.3" cy="414.9" r="0.65" opacity="1"/><circle cx="257.7" cy="416.5" r="0.65" opacity="1"/><circle cx="258.0" cy="417.3" r="0.65" opacity="1"/><circle cx="254.9" cy="418.2" r="0.65" opacity="1"/><circle cx="256.1" cy="414.4" r="0.65" opacity="1"/><circle cx="253.8" cy="416.4" r="0.65" opacity="1"/><circle cx="255.9" cy="415.6" r="0.65" opacity="1"/><circle cx="254.5" cy="415.8" r="0.65" opacity="1"/><circle cx="255.3" cy="417.9" r="0.65" opacity="1"/><circle cx="253.8" cy="417.5" r="0.65" opacity="1"/><circle cx="257.7" cy="414.8" r="0.65" opacity="1"/><circle cx="258.2" cy="417.4" r="0.65" opacity="1"/><circle cx="258.0" cy="415.5" r="0.65" opacity="1"/><circle cx="255.5" cy="416.0" r="0.65" opacity="1"/><circle cx="258.5" cy="416.8" r="0.65" opacity="1"/><circle cx="255.5" cy="416.1" r="0.65" opacity="1"/><circle cx="255.1" cy="414.5" r="0.65" opacity="1"/><circle cx="257.8" cy="417.5" r="0.55" opacity="1"/><circle cx="258.4" cy="417.8" r="0.55" opacity="1"/><circle cx="258.2" cy="415.8" r="0.55" opacity="1"/><circle cx="259.0" cy="415.6" r="0.55" opacity="1"/><circle cx="258.6" cy="417.9" r="0.55" opacity="1"/><circle cx="260.2" cy="417.4" r="0.55" opacity="1"/><circle cx="259.4" cy="417.7" r="0.55" opacity="1"/><circle cx="260.3" cy="416.6" r="0.55" opacity="1"/><circle cx="259.7" cy="415.1" r="0.55" opacity="1"/><circle cx="259.7" cy="416.4" r="0.55" opacity="1"/><circle cx="260.3" cy="418.3" r="0.4" opacity="0.4"/><circle cx="253.3" cy="408.8" r="0.4" opacity="0.4"/><circle cx="262.9" cy="410.0" r="0.4" opacity="0.4"/><circle cx="256.1" cy="413.5" r="0.4" opacity="0.4"/><circle cx="253.5" cy="419.8" r="0.4" opacity="0.4"/><circle cx="263.6" cy="412.2" r="0.4" opacity="0.4"/><circle cx="282.4" cy="388.5" r="0.55" opacity="1"/><circle cx="281.1" cy="390.2" r="0.55" opacity="1"/><circle cx="286.7" cy="390.0" r="0.55" opacity="1"/><circle cx="289.5" cy="393.2" r="0.55" opacity="1"/><circle cx="282.3" cy="390.6" r="0.55" opacity="1"/><circle cx="293.5" cy="379.8" r="0.55" opacity="1"/><circle cx="283.2" cy="390.6" r="0.55" opacity="1"/><circle cx="286.0" cy="390.0" r="0.55" opacity="1"/><circle cx="284.5" cy="390.6" r="0.55" opacity="1"/><circle cx="286.1" cy="391.0" r="0.55" opacity="1"/><circle cx="276.8" cy="390.7" r="0.55" opacity="1"/><circle cx="283.8" cy="386.9" r="0.55" opacity="1"/><circle cx="281.8" cy="392.7" r="0.55" opacity="1"/><circle cx="283.3" cy="392.0" r="0.55" opacity="1"/><circle cx="288.2" cy="388.7" r="0.55" opacity="1"/><circle cx="286.8" cy="388.1" r="0.55" opacity="1"/><circle cx="279.6" cy="391.8" r="0.55" opacity="1"/><circle cx="286.1" cy="387.2" r="0.55" opacity="1"/><circle cx="285.5" cy="391.2" r="0.55" opacity="1"/><circle cx="282.4" cy="392.4" r="0.55" opacity="1"/><circle cx="291.4" cy="384.6" r="0.55" opacity="1"/><circle cx="285.4" cy="388.7" r="0.55" opacity="1"/><circle cx="291.2" cy="387.2" r="0.55" opacity="1"/><circle cx="287.6" cy="386.0" r="0.55" opacity="1"/><circle cx="284.9" cy="389.3" r="0.55" opacity="1"/><circle cx="279.9" cy="395.9" r="0.55" opacity="1"/><circle cx="286.4" cy="383.6" r="0.55" opacity="1"/><circle cx="287.7" cy="387.6" r="0.55" opacity="1"/><circle cx="287.1" cy="389.3" r="0.55" opacity="1"/><circle cx="279.1" cy="391.5" r="0.55" opacity="1"/><circle cx="290.0" cy="385.2" r="0.55" opacity="1"/><circle cx="279.6" cy="388.0" r="0.55" opacity="1"/><circle cx="280.8" cy="392.3" r="0.55" opacity="1"/><circle cx="291.9" cy="387.2" r="0.55" opacity="1"/><circle cx="288.5" cy="394.1" r="0.55" opacity="1"/><circle cx="282.3" cy="388.7" r="0.55" opacity="1"/><circle cx="287.6" cy="389.6" r="0.55" opacity="1"/><circle cx="279.8" cy="388.4" r="0.55" opacity="1"/><circle cx="286.4" cy="389.3" r="0.55" opacity="1"/><circle cx="279.8" cy="391.2" r="0.55" opacity="1"/><circle cx="283.5" cy="391.4" r="0.55" opacity="1"/><circle cx="284.5" cy="389.3" r="0.55" opacity="1"/><circle cx="284.9" cy="392.4" r="0.55" opacity="1"/><circle cx="289.8" cy="385.9" r="0.55" opacity="1"/><circle cx="287.3" cy="386.0" r="0.55" opacity="1"/><circle cx="286.1" cy="390.9" r="0.55" opacity="1"/><circle cx="290.3" cy="385.6" r="0.55" opacity="1"/><circle cx="284.9" cy="389.9" r="0.55" opacity="1"/><circle cx="279.4" cy="392.1" r="0.55" opacity="1"/><circle cx="282.9" cy="391.4" r="0.55" opacity="1"/><circle cx="278.5" cy="386.7" r="0.55" opacity="1"/><circle cx="285.4" cy="389.8" r="0.55" opacity="1"/><circle cx="283.9" cy="392.4" r="0.55" opacity="1"/><circle cx="283.3" cy="388.4" r="0.55" opacity="1"/><circle cx="285.0" cy="384.8" r="0.55" opacity="1"/><circle cx="282.4" cy="390.5" r="0.55" opacity="1"/><circle cx="288.0" cy="387.4" r="0.55" opacity="1"/><circle cx="285.4" cy="387.2" r="0.55" opacity="1"/><circle cx="288.0" cy="392.6" r="0.55" opacity="1"/><circle cx="285.1" cy="396.1" r="0.55" opacity="1"/><circle cx="282.6" cy="390.5" r="0.55" opacity="1"/><circle cx="286.8" cy="391.4" r="0.55" opacity="1"/><circle cx="277.9" cy="386.6" r="0.55" opacity="1"/><circle cx="288.2" cy="390.1" r="0.55" opacity="1"/><circle cx="290.3" cy="394.3" r="0.55" opacity="1"/><circle cx="286.1" cy="389.5" r="0.55" opacity="1"/><circle cx="288.9" cy="388.5" r="0.55" opacity="1"/><circle cx="289.9" cy="383.4" r="0.55" opacity="1"/><circle cx="279.7" cy="381.9" r="0.55" opacity="1"/><circle cx="287.7" cy="386.9" r="0.55" opacity="1"/><circle cx="290.9" cy="392.7" r="0.55" opacity="1"/><circle cx="284.7" cy="388.7" r="0.55" opacity="1"/><circle cx="282.2" cy="388.3" r="0.55" opacity="1"/><circle cx="283.3" cy="391.9" r="0.55" opacity="1"/><circle cx="285.2" cy="389.4" r="0.55" opacity="1"/><circle cx="285.4" cy="391.8" r="0.55" opacity="1"/><circle cx="286.7" cy="388.1" r="0.55" opacity="1"/><circle cx="287.3" cy="387.7" r="0.55" opacity="1"/><circle cx="282.3" cy="394.8" r="0.55" opacity="1"/><circle cx="285.7" cy="386.2" r="0.55" opacity="1"/><circle cx="289.5" cy="388.1" r="0.55" opacity="1"/><circle cx="280.9" cy="395.9" r="0.55" opacity="1"/><circle cx="287.3" cy="390.8" r="0.55" opacity="1"/><circle cx="285.6" cy="388.6" r="0.55" opacity="1"/><circle cx="280.2" cy="394.4" r="0.55" opacity="1"/><circle cx="284.8" cy="388.6" r="0.55" opacity="1"/><circle cx="286.4" cy="388.8" r="0.55" opacity="1"/><circle cx="287.1" cy="387.2" r="0.55" opacity="1"/><circle cx="282.4" cy="384.4" r="0.55" opacity="1"/><circle cx="284.2" cy="391.7" r="0.55" opacity="1"/><circle cx="289.6" cy="386.0" r="0.55" opacity="1"/><circle cx="286.3" cy="393.2" r="0.55" opacity="1"/><circle cx="284.6" cy="391.6" r="0.55" opacity="1"/><circle cx="291.4" cy="386.3" r="0.55" opacity="1"/><circle cx="288.8" cy="385.4" r="0.55" opacity="1"/><circle cx="285.7" cy="388.7" r="0.55" opacity="1"/><circle cx="286.7" cy="391.7" r="0.55" opacity="1"/><circle cx="293.3" cy="383.4" r="0.55" opacity="1"/><circle cx="283.4" cy="391.5" r="0.55" opacity="1"/><circle cx="281.6" cy="392.4" r="0.55" opacity="1"/><circle cx="286.8" cy="387.6" r="0.55" opacity="1"/><circle cx="285.3" cy="384.7" r="0.55" opacity="1"/><circle cx="286.1" cy="384.3" r="0.55" opacity="1"/><circle cx="281.7" cy="389.3" r="0.55" opacity="1"/><circle cx="284.5" cy="392.0" r="0.55" opacity="1"/><circle cx="284.9" cy="388.2" r="0.55" opacity="1"/><circle cx="288.8" cy="392.0" r="0.55" opacity="1"/><circle cx="285.4" cy="390.1" r="0.55" opacity="1"/><circle cx="290.0" cy="387.7" r="0.55" opacity="1"/><circle cx="283.0" cy="397.5" r="0.55" opacity="1"/><circle cx="291.1" cy="380.6" r="0.55" opacity="1"/><circle cx="285.3" cy="390.3" r="0.55" opacity="1"/><circle cx="289.4" cy="389.1" r="0.55" opacity="1"/><circle cx="282.8" cy="387.3" r="0.55" opacity="1"/><circle cx="286.6" cy="391.5" r="0.55" opacity="1"/><circle cx="279.7" cy="388.9" r="0.55" opacity="1"/><circle cx="282.7" cy="384.8" r="0.55" opacity="1"/><circle cx="283.5" cy="388.8" r="0.55" opacity="1"/><circle cx="285.9" cy="386.8" r="0.55" opacity="1"/><circle cx="281.2" cy="390.0" r="0.55" opacity="1"/><circle cx="284.1" cy="387.8" r="0.55" opacity="1"/><circle cx="285.9" cy="391.0" r="0.55" opacity="1"/><circle cx="291.4" cy="391.1" r="0.55" opacity="1"/><circle cx="281.6" cy="389.7" r="0.55" opacity="1"/><circle cx="277.8" cy="398.3" r="0.55" opacity="1"/><circle cx="282.2" cy="390.5" r="0.55" opacity="1"/><circle cx="285.4" cy="385.2" r="0.55" opacity="1"/><circle cx="286.7" cy="388.4" r="0.55" opacity="1"/><circle cx="278.4" cy="393.3" r="0.55" opacity="1"/><circle cx="287.4" cy="382.7" r="0.55" opacity="1"/><circle cx="288.3" cy="388.3" r="0.55" opacity="1"/><circle cx="287.3" cy="389.5" r="0.55" opacity="1"/><circle cx="289.7" cy="386.4" r="0.55" opacity="1"/><circle cx="287.8" cy="386.7" r="0.55" opacity="1"/><circle cx="286.8" cy="386.1" r="0.55" opacity="1"/><circle cx="286.5" cy="393.6" r="0.55" opacity="1"/><circle cx="286.5" cy="388.1" r="0.55" opacity="1"/><circle cx="279.8" cy="389.5" r="0.55" opacity="1"/><circle cx="286.8" cy="391.1" r="0.55" opacity="1"/><circle cx="287.2" cy="389.7" r="0.55" opacity="1"/><circle cx="286.4" cy="392.5" r="0.55" opacity="1"/><circle cx="282.9" cy="388.7" r="0.55" opacity="1"/><circle cx="288.4" cy="387.8" r="0.55" opacity="1"/><circle cx="283.3" cy="388.5" r="0.55" opacity="1"/><circle cx="284.7" cy="391.2" r="0.55" opacity="1"/><circle cx="285.0" cy="385.8" r="0.55" opacity="1"/><circle cx="286.8" cy="388.9" r="0.55" opacity="1"/><circle cx="282.1" cy="392.9" r="0.55" opacity="1"/><circle cx="283.6" cy="389.0" r="0.55" opacity="1"/><circle cx="289.5" cy="390.9" r="0.55" opacity="1"/><circle cx="280.0" cy="393.8" r="0.45" opacity="0.7"/><circle cx="281.2" cy="402.3" r="0.45" opacity="0.7"/><circle cx="282.3" cy="396.7" r="0.45" opacity="0.7"/><circle cx="280.8" cy="395.3" r="0.45" opacity="0.7"/><circle cx="295.5" cy="375.0" r="0.45" opacity="0.7"/><circle cx="281.8" cy="393.6" r="0.45" opacity="0.7"/><circle cx="282.5" cy="387.8" r="0.45" opacity="0.7"/><circle cx="298.5" cy="386.4" r="0.45" opacity="0.7"/><circle cx="274.1" cy="397.6" r="0.45" opacity="0.7"/><circle cx="274.0" cy="399.0" r="0.45" opacity="0.7"/><circle cx="280.3" cy="392.3" r="0.45" opacity="0.7"/><circle cx="292.6" cy="388.4" r="0.45" opacity="0.7"/><circle cx="272.4" cy="386.1" r="0.45" opacity="0.7"/><circle cx="292.9" cy="391.2" r="0.45" opacity="0.7"/><circle cx="279.7" cy="395.9" r="0.45" opacity="0.7"/><circle cx="288.2" cy="392.3" r="0.45" opacity="0.7"/><circle cx="268.5" cy="393.9" r="0.45" opacity="0.7"/><circle cx="291.0" cy="391.8" r="0.45" opacity="0.7"/><circle cx="286.6" cy="378.1" r="0.45" opacity="0.7"/><circle cx="285.8" cy="392.3" r="0.45" opacity="0.7"/><circle cx="299.8" cy="381.1" r="0.45" opacity="0.7"/><circle cx="281.8" cy="391.3" r="0.45" opacity="0.7"/><circle cx="289.3" cy="386.8" r="0.45" opacity="0.7"/><circle cx="290.6" cy="384.7" r="0.45" opacity="0.7"/><circle cx="285.1" cy="387.7" r="0.45" opacity="0.7"/><circle cx="284.1" cy="387.2" r="0.45" opacity="0.7"/><circle cx="274.8" cy="398.5" r="0.45" opacity="0.7"/><circle cx="285.3" cy="387.5" r="0.45" opacity="0.7"/><circle cx="286.7" cy="394.3" r="0.45" opacity="0.7"/><circle cx="277.3" cy="392.0" r="0.45" opacity="0.7"/><circle cx="288.3" cy="391.6" r="0.45" opacity="0.7"/><circle cx="279.0" cy="382.1" r="0.45" opacity="0.7"/><circle cx="292.7" cy="389.3" r="0.45" opacity="0.7"/><circle cx="283.7" cy="389.3" r="0.45" opacity="0.7"/><circle cx="285.2" cy="388.1" r="0.45" opacity="0.7"/><circle cx="276.2" cy="389.4" r="0.45" opacity="0.7"/><circle cx="279.2" cy="389.1" r="0.45" opacity="0.7"/><circle cx="277.1" cy="395.6" r="0.45" opacity="0.7"/><circle cx="276.1" cy="396.0" r="0.45" opacity="0.7"/><circle cx="277.7" cy="394.1" r="0.45" opacity="0.7"/><circle cx="293.5" cy="388.5" r="0.45" opacity="0.7"/><circle cx="279.2" cy="392.2" r="0.45" opacity="0.7"/><circle cx="282.7" cy="382.7" r="0.45" opacity="0.7"/><circle cx="280.2" cy="392.5" r="0.45" opacity="0.7"/><circle cx="281.0" cy="391.8" r="0.45" opacity="0.7"/><circle cx="273.3" cy="415.2" r="0.45" opacity="0.5"/><circle cx="272.4" cy="415.3" r="0.45" opacity="0.5"/><circle cx="283.3" cy="410.5" r="0.45" opacity="0.5"/><circle cx="286.5" cy="411.0" r="0.45" opacity="0.5"/><circle cx="289.1" cy="419.3" r="0.45" opacity="0.5"/><circle cx="283.3" cy="410.7" r="0.45" opacity="0.5"/></g>
<text transform="translate(398.7,251.2) scale(1,1.09)" font-size="21" font-weight="bold" fill="#000">D</text>
<line x1="460.4" y1="278.4" x2="460.4" y2="399" stroke="#1e1e1e" stroke-width="1.4"/>
<line x1="451.09999999999997" y1="278.4" x2="460.4" y2="278.4" stroke="#1e1e1e" stroke-width="1.4"/>
<text x="448.1" y="284.2" font-size="16" text-anchor="end" font-weight="normal" fill="#1a1a1a" >600</text>
<line x1="451.09999999999997" y1="318.6" x2="460.4" y2="318.6" stroke="#1e1e1e" stroke-width="1.4"/>
<text x="448.1" y="324.40000000000003" font-size="16" text-anchor="end" font-weight="normal" fill="#1a1a1a" >400</text>
<line x1="451.09999999999997" y1="358.8" x2="460.4" y2="358.8" stroke="#1e1e1e" stroke-width="1.4"/>
<text x="448.1" y="364.6" font-size="16" text-anchor="end" font-weight="normal" fill="#1a1a1a" >200</text>
<line x1="451.09999999999997" y1="399" x2="460.4" y2="399" stroke="#1e1e1e" stroke-width="1.4"/>
<text x="448.1" y="404.8" font-size="16" text-anchor="end" font-weight="normal" fill="#1a1a1a" >0</text>
<line x1="460.4" y1="398.8" x2="609.8" y2="398.8" stroke="#1e1e1e" stroke-width="1.4"/>
<line x1="483.2" y1="398.8" x2="483.2" y2="407.8" stroke="#1e1e1e" stroke-width="1.4"/>
<line x1="534.8" y1="398.8" x2="534.8" y2="407.8" stroke="#1e1e1e" stroke-width="1.4"/>
<line x1="587" y1="398.8" x2="587" y2="407.8" stroke="#1e1e1e" stroke-width="1.4"/>
<text x="483.2" y="425.5" font-size="16" text-anchor="middle" font-weight="normal" fill="#1a1a1a" >9</text>
<text x="535.7" y="425.5" font-size="16" text-anchor="middle" font-weight="normal" fill="#1a1a1a" >13</text>
<text x="588" y="425.5" font-size="16" text-anchor="middle" font-weight="normal" fill="#1a1a1a" >18</text>
<text x="533.5" y="445.6" font-size="16.5" text-anchor="middle" font-weight="normal" fill="#1a1a1a" >Weeks post-AAV</text>
<text transform="translate(410.5,339.7) rotate(-90)" font-size="16.5" text-anchor="middle" fill="#1a1a1a" >HBsAb mIU/mL</text>
<line x1="473.5" y1="296" x2="493" y2="296" stroke="#858585" stroke-width="1.2"/>
<text x="483.2" y="285.3" font-size="13" text-anchor="middle" font-weight="normal" fill="#1a1a1a" >ns</text>
<line x1="525.5" y1="278.9" x2="544.9" y2="278.9" stroke="#858585" stroke-width="1.3"/>
<line x1="577.6" y1="278.9" x2="597.1" y2="278.9" stroke="#858585" stroke-width="1.3"/>
<path d="M535.40,265.60V271.20M533.38,266.86L537.42,269.94M533.38,269.94L537.42,266.86" stroke="#111" stroke-width="1.3" fill="none"/>
<circle cx="535.40" cy="268.4" r="0.9" fill="#111"/>
<path d="M587.70,265.60V271.20M585.68,266.86L589.72,269.94M585.68,269.94L589.72,266.86" stroke="#111" stroke-width="1.3" fill="none"/>
<circle cx="587.70" cy="268.4" r="0.9" fill="#111"/>
<circle cx="473.5" cy="321.9" r="3.6" fill="#0d0d0d"/>
<circle cx="471.5" cy="360.8" r="3.6" fill="#0d0d0d"/>
<circle cx="475.4" cy="360.8" r="3.6" fill="#0d0d0d"/>
<circle cx="473.5" cy="386.1" r="3.6" fill="#0d0d0d"/>
<circle cx="469.8" cy="398" r="3.6" fill="#0d0d0d"/>
<circle cx="473.5" cy="398" r="3.6" fill="#0d0d0d"/>
<circle cx="477.2" cy="398" r="3.6" fill="#0d0d0d"/>
<line x1="467.0" y1="378.3" x2="480.0" y2="378.3" stroke="#0d0d0d" stroke-width="1.4"/>
<line x1="470.6" y1="370.5" x2="476.4" y2="370.5" stroke="#0d0d0d" stroke-width="1.4"/>
<line x1="473.5" y1="370.5" x2="473.5" y2="386" stroke="#1e1e1e" stroke-width="1.4"/>
<rect x="487.00" y="395.00" width="7" height="7" fill="#AD0D55"/>
<rect x="492.50" y="395.00" width="7" height="7" fill="#AD0D55"/>
<rect x="488.00" y="391.50" width="7" height="7" fill="#AD0D55"/>
<rect x="491.50" y="392.50" width="7" height="7" fill="#AD0D55"/>
<circle cx="525.3" cy="298.3" r="3.6" fill="#0d0d0d"/>
<circle cx="525.5" cy="331" r="3.6" fill="#0d0d0d"/>
<circle cx="524" cy="335" r="3.6" fill="#0d0d0d"/>
<circle cx="525.5" cy="338.8" r="3.6" fill="#0d0d0d"/>
<circle cx="525.5" cy="386.1" r="3.6" fill="#0d0d0d"/>
<circle cx="520.5" cy="398" r="3.6" fill="#0d0d0d"/>
<circle cx="525" cy="398" r="3.6" fill="#0d0d0d"/>
<circle cx="530" cy="398" r="3.6" fill="#0d0d0d"/>
<line x1="519.15" y1="358.3" x2="531.85" y2="358.3" stroke="#0d0d0d" stroke-width="1.4"/>
<line x1="525.5" y1="344.7" x2="525.5" y2="371.9" stroke="#0d0d0d" stroke-width="1.4"/>
<line x1="522.6" y1="344.7" x2="528.4" y2="344.7" stroke="#0d0d0d" stroke-width="1.4"/>
<line x1="522.6" y1="371.9" x2="528.4" y2="371.9" stroke="#0d0d0d" stroke-width="1.4"/>
<rect x="541.20" y="383.80" width="7.4" height="7.4" fill="#AD0D55"/>
<rect x="537.80" y="394.30" width="7.4" height="7.4" fill="#AD0D55"/>
<rect x="544.80" y="394.30" width="7.4" height="7.4" fill="#AD0D55"/>
<rect x="541.30" y="392.30" width="7.4" height="7.4" fill="#AD0D55"/>
<circle cx="577.6" cy="296" r="3.6" fill="#0d0d0d"/>
<circle cx="577.6" cy="329.5" r="3.6" fill="#0d0d0d"/>
<circle cx="577.6" cy="339.8" r="3.6" fill="#0d0d0d"/>
<circle cx="577.6" cy="373.5" r="3.6" fill="#0d0d0d"/>
<circle cx="573" cy="398" r="3.6" fill="#0d0d0d"/>
<circle cx="577.6" cy="398" r="3.6" fill="#0d0d0d"/>
<circle cx="582" cy="398" r="3.6" fill="#0d0d0d"/>
<line x1="571.4" y1="366.7" x2="583.8000000000001" y2="366.7" stroke="#0d0d0d" stroke-width="1.4"/>
<line x1="577.6" y1="352.4" x2="577.6" y2="380.7" stroke="#0d0d0d" stroke-width="1.4"/>
<line x1="574.7" y1="352.4" x2="580.5" y2="352.4" stroke="#0d0d0d" stroke-width="1.4"/>
<line x1="574.7" y1="380.7" x2="580.5" y2="380.7" stroke="#0d0d0d" stroke-width="1.4"/>
<rect x="591.00" y="388.60" width="7.4" height="7.4" fill="#AD0D55"/>
<rect x="590.30" y="394.30" width="7.4" height="7.4" fill="#AD0D55"/>
<rect x="594.30" y="392.30" width="7.4" height="7.4" fill="#AD0D55"/>
<circle cx="631.3" cy="287.2" r="3.7" fill="#0d0d0d"/>
<rect x="628.30" y="299.20" width="7.4" height="7.4" fill="#AD0D55"/>
<text x="659" y="291.5" font-size="12" text-anchor="start" font-weight="normal" fill="#1a1a1a" textLength="22.2" lengthAdjust="spacingAndGlyphs">PBS</text>
<text x="659.5" y="306.9" font-size="12" fill="#1a1a1a"><tspan font-family='"Liberation Serif", serif' font-size="13.5" dy="1.3">α</tspan><tspan dy="-1.3">-CD4</tspan></text>
<text transform="translate(6.3,469.2) scale(1,1.09)" font-size="21" font-weight="bold" fill="#000">E</text>
<line x1="68.4" y1="510.5" x2="68.4" y2="530.6" stroke="#1e1e1e" stroke-width="1.4"/>
<line x1="62.6" y1="530.6" x2="74.1" y2="530.6" stroke="#1e1e1e" stroke-width="1.4"/>
<line x1="59.5" y1="518.8" x2="68.4" y2="518.8" stroke="#1e1e1e" stroke-width="1.4"/>
<text x="56.4" y="524.6" font-size="16" text-anchor="end" font-weight="normal" fill="#1a1a1a" >120</text>
<line x1="68.4" y1="548.6" x2="68.4" y2="630.2" stroke="#1e1e1e" stroke-width="1.4"/>
<line x1="62.6" y1="548.6" x2="74.1" y2="548.6" stroke="#1e1e1e" stroke-width="1.4"/>
<line x1="59.5" y1="565" x2="68.4" y2="565" stroke="#1e1e1e" stroke-width="1.4"/>
<text x="56.4" y="570.8" font-size="16" text-anchor="end" font-weight="normal" fill="#1a1a1a" >40</text>
<line x1="59.5" y1="597.6" x2="68.4" y2="597.6" stroke="#1e1e1e" stroke-width="1.4"/>
<text x="56.4" y="603.4" font-size="16" text-anchor="end" font-weight="normal" fill="#1a1a1a" >20</text>
<line x1="59.5" y1="630.2" x2="68.4" y2="630.2" stroke="#1e1e1e" stroke-width="1.4"/>
<text x="56.4" y="636.0" font-size="16" text-anchor="end" font-weight="normal" fill="#1a1a1a" >0</text>
<line x1="68.4" y1="630.2" x2="218.5" y2="630.2" stroke="#1e1e1e" stroke-width="1.4"/>
<line x1="103.4" y1="630.2" x2="103.4" y2="639.7" stroke="#1e1e1e" stroke-width="1.4"/>
<line x1="183.3" y1="630.2" x2="183.3" y2="639.7" stroke="#1e1e1e" stroke-width="1.4"/>
<text x="104" y="657" font-size="16.5" text-anchor="middle" font-weight="normal" fill="#1a1a1a" >IgM</text>
<text x="183.8" y="657" font-size="16.5" text-anchor="middle" font-weight="normal" fill="#1a1a1a" >IgG</text>
<text transform="translate(17.7,571.2) rotate(-90)" font-size="17" text-anchor="middle" fill="#1a1a1a" >ASCs per 10<tspan dy="-8.3" font-size="11.5">6</tspan><tspan dy="8.3"> cells</tspan></text>
<line x1="88.6" y1="530.9" x2="118.4" y2="530.9" stroke="#858585" stroke-width="1.2"/>
<text x="103.5" y="520.2" font-size="12.7" text-anchor="middle" font-weight="normal" fill="#1a1a1a" >0.6359</text>
<line x1="168.5" y1="505.3" x2="198.5" y2="505.3" stroke="#858585" stroke-width="1.2"/>
<text x="183.2" y="494.6" font-size="12.7" text-anchor="middle" font-weight="normal" fill="#1a1a1a" >0.0646</text>
<circle cx="88.6" cy="556.7" r="3.6" fill="#0d0d0d"/>
<circle cx="88.6" cy="589.5" r="3.6" fill="#0d0d0d"/>
<circle cx="88.6" cy="605.2" r="3.6" fill="#0d0d0d"/>
<circle cx="85.3" cy="621.8" r="3.6" fill="#0d0d0d"/>
<circle cx="91.8" cy="621.8" r="3.6" fill="#0d0d0d"/>
<circle cx="81.5" cy="630.2" r="3.6" fill="#0d0d0d"/>
<circle cx="88.6" cy="630.2" r="3.6" fill="#0d0d0d"/>
<circle cx="94.8" cy="630.2" r="3.6" fill="#0d0d0d"/>
<line x1="78.89999999999999" y1="611" x2="98.7" y2="611" stroke="#0d0d0d" stroke-width="1.4"/>
<line x1="83.95" y1="602" x2="93.64999999999999" y2="602" stroke="#0d0d0d" stroke-width="1.4"/>
<line x1="88.6" y1="602" x2="88.6" y2="630" stroke="#1e1e1e" stroke-width="1.4"/>
<rect x="114.90" y="610.70" width="7" height="7" fill="#AD0D55"/>
<rect x="108.30" y="626.70" width="7" height="7" fill="#AD0D55"/>
<rect x="115.00" y="626.70" width="7" height="7" fill="#AD0D55"/>
<rect x="121.70" y="626.70" width="7" height="7" fill="#AD0D55"/>
<line x1="113" y1="625.6" x2="124" y2="625.6" stroke="#AD0D55" stroke-width="1.4"/>
<circle cx="168.5" cy="517.2" r="3.6" fill="#0d0d0d"/>
<circle cx="168.5" cy="556.7" r="3.6" fill="#0d0d0d"/>
<circle cx="168.5" cy="581" r="3.6" fill="#0d0d0d"/>
<circle cx="168.5" cy="605.6" r="3.6" fill="#0d0d0d"/>
<circle cx="168.5" cy="614.2" r="3.6" fill="#0d0d0d"/>
<circle cx="168.5" cy="622.2" r="3.6" fill="#0d0d0d"/>
<circle cx="162" cy="630.2" r="3.6" fill="#0d0d0d"/>
<circle cx="175.3" cy="630.2" r="3.6" fill="#0d0d0d"/>
<line x1="158.45000000000002" y1="583.5" x2="178.15" y2="583.5" stroke="#0d0d0d" stroke-width="1.4"/>
<line x1="168.3" y1="559.5" x2="168.3" y2="607.8" stroke="#0d0d0d" stroke-width="1.4"/>
<line x1="164.0" y1="559.5" x2="172.60000000000002" y2="559.5" stroke="#0d0d0d" stroke-width="1.4"/>
<line x1="164.0" y1="607.8" x2="172.60000000000002" y2="607.8" stroke="#0d0d0d" stroke-width="1.4"/>
<rect x="195.00" y="610.70" width="7" height="7" fill="#AD0D55"/>
<rect x="188.10" y="626.70" width="7" height="7" fill="#AD0D55"/>
<rect x="194.60" y="626.70" width="7" height="7" fill="#AD0D55"/>
<rect x="201.10" y="626.70" width="7" height="7" fill="#AD0D55"/>
<line x1="193.2" y1="625.6" x2="203.4" y2="625.6" stroke="#AD0D55" stroke-width="1.4"/>
<circle cx="231.5" cy="503" r="3.7" fill="#0d0d0d"/>
<rect x="226.50" y="518.50" width="7.4" height="7.4" fill="#AD0D55"/>
<text x="259.3" y="507.4" font-size="12" text-anchor="start" font-weight="normal" fill="#1a1a1a" textLength="22.4" lengthAdjust="spacingAndGlyphs">PBS</text>
<text x="258" y="526.5" font-size="12" fill="#1a1a1a"><tspan font-family='"Liberation Serif", serif' font-size="13.5" dy="1.3">α</tspan><tspan dy="-1.3">-CD4</tspan></text>
<text transform="translate(400.1,469.2) scale(1,1.09)" font-size="21" font-weight="bold" fill="#000">F</text>
<line x1="454.4" y1="512.8" x2="454.4" y2="633.1" stroke="#1e1e1e" stroke-width="1.4"/>
<line x1="445.4" y1="512.8" x2="454.4" y2="512.8" stroke="#1e1e1e" stroke-width="1.4"/>
<text x="442.4" y="518.5999999999999" font-size="16" text-anchor="end" font-weight="normal" fill="#1a1a1a" >3</text>
<line x1="445.4" y1="552.9" x2="454.4" y2="552.9" stroke="#1e1e1e" stroke-width="1.4"/>
<text x="442.4" y="558.6999999999999" font-size="16" text-anchor="end" font-weight="normal" fill="#1a1a1a" >2</text>
<line x1="445.4" y1="593.0" x2="454.4" y2="593.0" stroke="#1e1e1e" stroke-width="1.4"/>
<text x="442.4" y="598.8" font-size="16" text-anchor="end" font-weight="normal" fill="#1a1a1a" >1</text>
<line x1="445.4" y1="633.1" x2="454.4" y2="633.1" stroke="#1e1e1e" stroke-width="1.4"/>
<text x="442.4" y="638.9" font-size="16" text-anchor="end" font-weight="normal" fill="#1a1a1a" >0</text>
<line x1="454.4" y1="633.1" x2="604.3" y2="633.1" stroke="#1e1e1e" stroke-width="1.4"/>
<line x1="476.5" y1="633.1" x2="476.5" y2="643.1" stroke="#1e1e1e" stroke-width="1.4"/>
<line x1="528.6" y1="633.1" x2="528.6" y2="643.1" stroke="#1e1e1e" stroke-width="1.4"/>
<line x1="581.4" y1="633.1" x2="581.4" y2="643.1" stroke="#1e1e1e" stroke-width="1.4"/>
<text x="477" y="659.9" font-size="16" text-anchor="middle" font-weight="normal" fill="#1a1a1a" >CD4</text>
<text x="529.2" y="659.9" font-size="16" text-anchor="middle" font-weight="normal" fill="#1a1a1a" >CD8</text>
<text x="581.1" y="659.9" font-size="16" text-anchor="middle" font-weight="normal" fill="#1a1a1a" >CD19</text>
<text transform="translate(414.7,573.2) rotate(-90)" font-size="17" text-anchor="middle" fill="#1a1a1a" >Count 10<tspan dy="-8.3" font-size="11.5">4</tspan><tspan dy="8.3"> per 10</tspan><tspan dy="-8.3" font-size="11.5">5</tspan><tspan dy="8.3"> cells</tspan></text>
<polyline points="467.1,513.3 467.1,495.2 486.8,495.2 486.8,508.3" fill="none" stroke="#5a5a5a" stroke-width="1.1"/>
<text x="477.2" y="484.1" font-size="13" text-anchor="middle" font-weight="normal" fill="#1a1a1a" >ns</text>
<polyline points="519.5,590.8 519.5,495.2 538.6,495.2 538.6,577.7" fill="none" stroke="#5a5a5a" stroke-width="1.1"/>
<text x="529" y="484.1" font-size="13" text-anchor="middle" font-weight="normal" fill="#1a1a1a" >ns</text>
<polyline points="571.4,523.4 571.4,495.2 590.5,495.2 590.5,519.3" fill="none" stroke="#5a5a5a" stroke-width="1.1"/>
<text x="580.9" y="484.1" font-size="13" text-anchor="middle" font-weight="normal" fill="#1a1a1a" >ns</text>
<circle cx="464.1" cy="528.4" r="3.6" fill="#0d0d0d"/>
<circle cx="470.1" cy="529" r="3.6" fill="#0d0d0d"/>
<circle cx="467.7" cy="542.1" r="3.6" fill="#0d0d0d"/>
<circle cx="464.1" cy="561" r="3.6" fill="#0d0d0d"/>
<circle cx="470.7" cy="567.2" r="3.6" fill="#0d0d0d"/>
<circle cx="464.5" cy="583.8" r="3.6" fill="#0d0d0d"/>
<circle cx="470.5" cy="587.4" r="3.6" fill="#0d0d0d"/>
<circle cx="467.7" cy="600.5" r="3.6" fill="#0d0d0d"/>
<line x1="462.95" y1="562.2" x2="474.05" y2="562.2" stroke="#0d0d0d" stroke-width="1.4"/>
<line x1="468.5" y1="552.5" x2="468.5" y2="572.3" stroke="#0d0d0d" stroke-width="1.4"/>
<line x1="466.0" y1="552.5" x2="471.0" y2="552.5" stroke="#0d0d0d" stroke-width="1.4"/>
<line x1="466.0" y1="572.3" x2="471.0" y2="572.3" stroke="#0d0d0d" stroke-width="1.4"/>
<rect x="483.10" y="519.70" width="7.4" height="7.4" fill="#AD0D55"/>
<rect x="486.60" y="528.70" width="7.4" height="7.4" fill="#AD0D55"/>
<rect x="480.50" y="531.70" width="7.4" height="7.4" fill="#AD0D55"/>
<rect x="483.10" y="534.80" width="7.4" height="7.4" fill="#AD0D55"/>
<rect x="483.10" y="542.80" width="7.4" height="7.4" fill="#AD0D55"/>
<rect x="483.10" y="575.00" width="7.4" height="7.4" fill="#AD0D55"/>
<rect x="483.10" y="582.50" width="7.4" height="7.4" fill="#AD0D55"/>
<line x1="480.3" y1="548.1" x2="493.3" y2="548.1" stroke="#AD0D55" stroke-width="1.4"/>
<line x1="486.8" y1="538.5" x2="486.8" y2="557.6" stroke="#AD0D55" stroke-width="1.4"/>
<line x1="484.3" y1="538.5" x2="489.3" y2="538.5" stroke="#AD0D55" stroke-width="1.4"/>
<line x1="484.3" y1="557.6" x2="489.3" y2="557.6" stroke="#AD0D55" stroke-width="1.4"/>
<circle cx="519.5" cy="604.5" r="3.6" fill="#0d0d0d"/>
<circle cx="519.5" cy="610" r="3.6" fill="#0d0d0d"/>
<circle cx="520.5" cy="618" r="3.6" fill="#0d0d0d"/>
<circle cx="517.4" cy="620" r="3.6" fill="#0d0d0d"/>
<circle cx="522.5" cy="623" r="3.6" fill="#0d0d0d"/>
<circle cx="516.4" cy="629" r="3.6" fill="#0d0d0d"/>
<line x1="513.45" y1="619.4" x2="525.55" y2="619.4" stroke="#0d0d0d" stroke-width="1.4"/>
<line x1="519.5" y1="614" x2="519.5" y2="624" stroke="#0d0d0d" stroke-width="1.4"/>
<line x1="517.0" y1="614" x2="522.0" y2="614" stroke="#0d0d0d" stroke-width="1.4"/>
<line x1="517.0" y1="624" x2="522.0" y2="624" stroke="#0d0d0d" stroke-width="1.4"/>
<rect x="531.90" y="588.10" width="7.4" height="7.4" fill="#AD0D55"/>
<rect x="537.90" y="590.10" width="7.4" height="7.4" fill="#AD0D55"/>
<rect x="532.90" y="595.10" width="7.4" height="7.4" fill="#AD0D55"/>
<rect x="537.90" y="599.20" width="7.4" height="7.4" fill="#AD0D55"/>
<rect x="535.30" y="613.30" width="7.4" height="7.4" fill="#AD0D55"/>
<rect x="534.80" y="612.80" width="7.4" height="7.4" fill="#AD0D55"/>
<line x1="532.6" y1="599" x2="544.6" y2="599" stroke="#AD0D55" stroke-width="1.4"/>
<line x1="538.6" y1="594" x2="538.6" y2="604" stroke="#AD0D55" stroke-width="1.4"/>
<line x1="536.1" y1="594" x2="541.1" y2="594" stroke="#AD0D55" stroke-width="1.4"/>
<line x1="536.1" y1="604" x2="541.1" y2="604" stroke="#AD0D55" stroke-width="1.4"/>
<circle cx="571.4" cy="537.4" r="3.6" fill="#0d0d0d"/>
<circle cx="571.4" cy="549.1" r="3.6" fill="#0d0d0d"/>
<circle cx="568.8" cy="566.6" r="3.6" fill="#0d0d0d"/>
<circle cx="568.5" cy="574" r="3.6" fill="#0d0d0d"/>
<circle cx="574.5" cy="576" r="3.6" fill="#0d0d0d"/>
<circle cx="571" cy="577" r="3.6" fill="#0d0d0d"/>
<circle cx="571.4" cy="591.8" r="3.6" fill="#0d0d0d"/>
<circle cx="571.4" cy="603.3" r="3.6" fill="#0d0d0d"/>
<line x1="564.8" y1="571.7" x2="577.8" y2="571.7" stroke="#0d0d0d" stroke-width="1.4"/>
<line x1="571.3" y1="564.6" x2="571.3" y2="577" stroke="#0d0d0d" stroke-width="1.4"/>
<line x1="568.8" y1="564.6" x2="573.8" y2="564.6" stroke="#0d0d0d" stroke-width="1.4"/>
<line x1="568.8" y1="577" x2="573.8" y2="577" stroke="#0d0d0d" stroke-width="1.4"/>
<rect x="585.20" y="530.30" width="7.4" height="7.4" fill="#AD0D55"/>
<rect x="589.30" y="532.70" width="7.4" height="7.4" fill="#AD0D55"/>
<rect x="584.80" y="542.30" width="7.4" height="7.4" fill="#AD0D55"/>
<rect x="589.80" y="542.80" width="7.4" height="7.4" fill="#AD0D55"/>
<rect x="586.80" y="545.30" width="7.4" height="7.4" fill="#AD0D55"/>
<rect x="587.20" y="569.40" width="7.4" height="7.4" fill="#AD0D55"/>
<rect x="587.20" y="587.70" width="7.4" height="7.4" fill="#AD0D55"/>
<line x1="584.3" y1="553.6" x2="597.3" y2="553.6" stroke="#AD0D55" stroke-width="1.4"/>
<line x1="590.8" y1="545" x2="590.8" y2="561.6" stroke="#AD0D55" stroke-width="1.4"/>
<line x1="588.3" y1="545" x2="593.3" y2="545" stroke="#AD0D55" stroke-width="1.4"/>
<line x1="588.3" y1="561.6" x2="593.3" y2="561.6" stroke="#AD0D55" stroke-width="1.4"/>
<circle cx="628.6" cy="494.1" r="3.7" fill="#0d0d0d"/>
<rect x="624.90" y="506.90" width="7.4" height="7.4" fill="#AD0D55"/>
<text x="656.4" y="498.1" font-size="12" text-anchor="start" font-weight="normal" fill="#1a1a1a" textLength="22.1" lengthAdjust="spacingAndGlyphs">PBS</text>
<text x="656.1" y="514.9" font-size="12" fill="#1a1a1a"><tspan font-family='"Liberation Serif", serif' font-size="13.5" dy="1.3">α</tspan><tspan dy="-1.3">-CD4</tspan></text>
<text transform="translate(4.1,696.2) scale(1,1.09)" font-size="21" font-weight="bold" fill="#000">G</text>
<line x1="68.7" y1="748.7" x2="68.7" y2="868.5" stroke="#1e1e1e" stroke-width="1.4"/>
<line x1="59.400000000000006" y1="748.7" x2="68.7" y2="748.7" stroke="#1e1e1e" stroke-width="1.4"/>
<text x="55.9" y="754.5" font-size="16" text-anchor="end" font-weight="normal" fill="#1a1a1a" >400</text>
<line x1="59.400000000000006" y1="778.6500000000001" x2="68.7" y2="778.6500000000001" stroke="#1e1e1e" stroke-width="1.4"/>
<text x="55.9" y="784.45" font-size="16" text-anchor="end" font-weight="normal" fill="#1a1a1a" >300</text>
<line x1="59.400000000000006" y1="808.6" x2="68.7" y2="808.6" stroke="#1e1e1e" stroke-width="1.4"/>
<text x="55.9" y="814.4" font-size="16" text-anchor="end" font-weight="normal" fill="#1a1a1a" >200</text>
<line x1="59.400000000000006" y1="838.5500000000001" x2="68.7" y2="838.5500000000001" stroke="#1e1e1e" stroke-width="1.4"/>
<text x="55.9" y="844.35" font-size="16" text-anchor="end" font-weight="normal" fill="#1a1a1a" >100</text>
<line x1="59.400000000000006" y1="868.5" x2="68.7" y2="868.5" stroke="#1e1e1e" stroke-width="1.4"/>
<text x="55.9" y="874.3" font-size="16" text-anchor="end" font-weight="normal" fill="#1a1a1a" >0</text>
<line x1="68.7" y1="868.5" x2="218.3" y2="868.5" stroke="#1e1e1e" stroke-width="1.4"/>
<line x1="111.2" y1="868.5" x2="111.2" y2="877.5" stroke="#1e1e1e" stroke-width="1.4"/>
<line x1="175.2" y1="868.5" x2="175.2" y2="877.5" stroke="#1e1e1e" stroke-width="1.4"/>
<text x="111.5" y="894.8" font-size="16" text-anchor="middle" font-weight="normal" fill="#1a1a1a" >PBS</text>
<text x="175.4" y="894.8" font-size="16" text-anchor="middle" fill="#1a1a1a"><tspan font-family='"Liberation Serif", serif' font-size="17" dy="1.8">α</tspan><tspan dy="-1.8">-CD4</tspan></text>
<text transform="translate(18.5,809.9) rotate(-90)" font-size="17" text-anchor="middle" fill="#1a1a1a" >CXCR5<tspan dy="-8.3" font-size="11.5">+</tspan><tspan dy="8.3">CD4</tspan><tspan dy="-8.3" font-size="11.5">+</tspan><tspan dy="8.3"> per 10</tspan><tspan dy="-8.3" font-size="11.5">5</tspan><tspan dy="8.3"> cells</tspan></text>
<line x1="111.5" y1="738.3" x2="175.5" y2="738.3" stroke="#858585" stroke-width="1.2"/>
<text x="143.3" y="728.1" font-size="13" text-anchor="middle" font-weight="normal" fill="#1a1a1a" >ns</text>
<circle cx="111.2" cy="757.1" r="3.6" fill="#0d0d0d"/>
<circle cx="93.3" cy="780.8" r="3.6" fill="#0d0d0d"/>
<circle cx="111.2" cy="787.8" r="3.6" fill="#0d0d0d"/>
<circle cx="111.2" cy="812" r="3.6" fill="#0d0d0d"/>
<circle cx="93.3" cy="819.9" r="3.6" fill="#0d0d0d"/>
<circle cx="129.3" cy="821.1" r="3.6" fill="#0d0d0d"/>
<circle cx="111.2" cy="826" r="3.6" fill="#0d0d0d"/>
<circle cx="111.2" cy="839.7" r="3.6" fill="#0d0d0d"/>
<line x1="90.15" y1="805.4" x2="132.45" y2="805.4" stroke="#0d0d0d" stroke-width="1.4"/>
<line x1="111.3" y1="795.8" x2="111.3" y2="815.1" stroke="#0d0d0d" stroke-width="1.4"/>
<line x1="101.0" y1="795.8" x2="121.6" y2="795.8" stroke="#0d0d0d" stroke-width="1.4"/>
<line x1="101.0" y1="815.1" x2="121.6" y2="815.1" stroke="#0d0d0d" stroke-width="1.4"/>
<rect x="153.90" y="783.10" width="7" height="7" fill="#AD0D55"/>
<rect x="171.70" y="780.90" width="7" height="7" fill="#AD0D55"/>
<rect x="189.40" y="785.70" width="7" height="7" fill="#AD0D55"/>
<rect x="189.40" y="793.50" width="7" height="7" fill="#AD0D55"/>
<rect x="171.70" y="795.20" width="7" height="7" fill="#AD0D55"/>
<rect x="162.80" y="829.70" width="7" height="7" fill="#AD0D55"/>
<rect x="180.40" y="827.80" width="7" height="7" fill="#AD0D55"/>
<line x1="154.15" y1="802.5" x2="196.45000000000002" y2="802.5" stroke="#AD0D55" stroke-width="1.4"/>
<line x1="175.3" y1="795" x2="175.3" y2="810.7" stroke="#AD0D55" stroke-width="1.4"/>
<line x1="165.05" y1="795" x2="185.55" y2="795" stroke="#AD0D55" stroke-width="1.4"/>
<line x1="165.05" y1="810.7" x2="185.55" y2="810.7" stroke="#AD0D55" stroke-width="1.4"/>
<text transform="translate(400,696.2) scale(1,1.09)" font-size="21" font-weight="bold" fill="#000">H</text>
<line x1="459.1" y1="748.8" x2="459.1" y2="868.6" stroke="#1e1e1e" stroke-width="1.4"/>
<line x1="449.8" y1="748.8" x2="459.1" y2="748.8" stroke="#1e1e1e" stroke-width="1.4"/>
<text x="447" y="754.5999999999999" font-size="16" text-anchor="end" font-weight="normal" fill="#1a1a1a" >2.5</text>
<line x1="449.8" y1="772.76" x2="459.1" y2="772.76" stroke="#1e1e1e" stroke-width="1.4"/>
<text x="447" y="778.56" font-size="16" text-anchor="end" font-weight="normal" fill="#1a1a1a" >2.0</text>
<line x1="449.8" y1="796.7199999999999" x2="459.1" y2="796.7199999999999" stroke="#1e1e1e" stroke-width="1.4"/>
<text x="447" y="802.5199999999999" font-size="16" text-anchor="end" font-weight="normal" fill="#1a1a1a" >1.5</text>
<line x1="449.8" y1="820.68" x2="459.1" y2="820.68" stroke="#1e1e1e" stroke-width="1.4"/>
<text x="447" y="826.4799999999999" font-size="16" text-anchor="end" font-weight="normal" fill="#1a1a1a" >1.0</text>
<line x1="449.8" y1="844.64" x2="459.1" y2="844.64" stroke="#1e1e1e" stroke-width="1.4"/>
<text x="447" y="850.4399999999999" font-size="16" text-anchor="end" font-weight="normal" fill="#1a1a1a" >0.5</text>
<line x1="449.8" y1="868.5999999999999" x2="459.1" y2="868.5999999999999" stroke="#1e1e1e" stroke-width="1.4"/>
<text x="447" y="874.3999999999999" font-size="16" text-anchor="end" font-weight="normal" fill="#1a1a1a" >0.0</text>
<line x1="459.1" y1="868.6" x2="608.9" y2="868.6" stroke="#1e1e1e" stroke-width="1.4"/>
<line x1="501.5" y1="868.6" x2="501.5" y2="877.6" stroke="#1e1e1e" stroke-width="1.4"/>
<line x1="565.3" y1="868.6" x2="565.3" y2="877.6" stroke="#1e1e1e" stroke-width="1.4"/>
<text x="502" y="894.9" font-size="16" text-anchor="middle" font-weight="normal" fill="#1a1a1a" >PBS</text>
<text x="565.5" y="894.9" font-size="16" text-anchor="middle" fill="#1a1a1a"><tspan font-family='"Liberation Serif", serif' font-size="17" dy="1.8">α</tspan><tspan dy="-1.8">-CD4</tspan></text>
<text transform="translate(413.5,809.6) rotate(-90)" font-size="17" text-anchor="middle" fill="#1a1a1a" >% of PD-1<tspan dy="-8.3" font-size="11.5">+</tspan><tspan dy="8.3"> cells</tspan></text>
<line x1="502.2" y1="736.1" x2="565.7" y2="736.1" stroke="#858585" stroke-width="1.2"/>
<text x="533.3" y="725.9" font-size="13" text-anchor="middle" font-weight="normal" fill="#1a1a1a" >ns</text>
<circle cx="501.5" cy="764.9" r="3.6" fill="#0d0d0d"/>
<circle cx="507.5" cy="783.7" r="3.6" fill="#0d0d0d"/>
<circle cx="519.2" cy="786.4" r="3.6" fill="#0d0d0d"/>
<circle cx="495.5" cy="789.3" r="3.6" fill="#0d0d0d"/>
<circle cx="507.5" cy="790.8" r="3.6" fill="#0d0d0d"/>
<circle cx="495.5" cy="803" r="3.6" fill="#0d0d0d"/>
<circle cx="507.5" cy="808.1" r="3.6" fill="#0d0d0d"/>
<circle cx="501.5" cy="824.5" r="3.6" fill="#0d0d0d"/>
<line x1="480.5" y1="793.7" x2="522.5" y2="793.7" stroke="#0d0d0d" stroke-width="1.4"/>
<line x1="501.5" y1="787.5" x2="501.5" y2="800.3" stroke="#0d0d0d" stroke-width="1.4"/>
<line x1="491.0" y1="787.5" x2="512.0" y2="787.5" stroke="#0d0d0d" stroke-width="1.4"/>
<line x1="491.0" y1="800.3" x2="512.0" y2="800.3" stroke="#0d0d0d" stroke-width="1.4"/>
<rect x="544.50" y="772.50" width="7" height="7" fill="#AD0D55"/>
<rect x="562.20" y="774.50" width="7" height="7" fill="#AD0D55"/>
<rect x="580.00" y="768.90" width="7" height="7" fill="#AD0D55"/>
<rect x="580.00" y="778.00" width="7" height="7" fill="#AD0D55"/>
<rect x="562.20" y="782.90" width="7" height="7" fill="#AD0D55"/>
<rect x="553.40" y="799.50" width="7" height="7" fill="#AD0D55"/>
<rect x="571.10" y="797.70" width="7" height="7" fill="#AD0D55"/>
<line x1="544.5" y1="785.3" x2="586.5" y2="785.3" stroke="#AD0D55" stroke-width="1.4"/>
<line x1="565.5" y1="780.8" x2="565.5" y2="790.1" stroke="#AD0D55" stroke-width="1.4"/>
<line x1="555.2" y1="780.8" x2="575.8" y2="780.8" stroke="#AD0D55" stroke-width="1.4"/>
<line x1="555.2" y1="790.1" x2="575.8" y2="790.1" stroke="#AD0D55" stroke-width="1.4"/>
</svg></body></html>
